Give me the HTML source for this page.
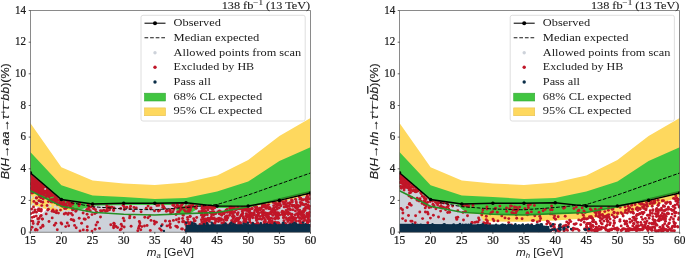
<!DOCTYPE html>
<html><head><meta charset="utf-8"><style>
html,body{margin:0;padding:0;background:#fff;}
body{width:685px;height:258px;overflow:hidden;}
svg{display:block;}
svg{will-change:transform;}
.tk{font-family:"Liberation Serif",serif;font-size:11.8px;fill:#1a1a1a;stroke:#1a1a1a;stroke-width:0.22px;}
.tt{font-family:"Liberation Serif",serif;font-size:11.2px;fill:#1a1a1a;stroke:#1a1a1a;stroke-width:0.1px;}
.lg{font-family:"Liberation Serif",serif;font-size:11.2px;fill:#1a1a1a;}
.xl{font-family:"Liberation Sans",sans-serif;font-size:10.6px;fill:#1a1a1a;}
.yl{font-family:"Liberation Sans",sans-serif;font-size:11px;fill:#1a1a1a;stroke:#1a1a1a;stroke-width:0.15px;}
</style></head><body>
<svg width="685" height="258" viewBox="0 0 685 258">
<defs><clipPath id="c"><rect x="30.3" y="10.5" width="280.2" height="222.0"/><rect x="399.5" y="10.5" width="280.2" height="222.0"/></clipPath></defs><g clip-path="url(#c)">
<polygon points="30.3,123.0 61.4,167.2 92.6,180.5 123.7,183.4 154.8,185.0 186.0,182.4 217.1,175.5 248.2,160.0 279.4,136.0 310.5,118.0 310.5,197.0 279.4,207.0 248.2,215.5 217.1,218.5 186.0,220.5 154.8,221.8 123.7,221.6 92.6,219.5 61.4,213.0 30.3,205.0" fill="#fed85e" />
<polygon points="30.3,152.0 61.4,185.2 92.6,195.5 123.7,196.9 154.8,199.0 186.0,198.0 217.1,191.5 248.2,181.5 279.4,161.0 310.5,147.2 310.5,191.5 279.4,199.0 248.2,206.8 217.1,212.5 186.0,213.6 154.8,215.0 123.7,214.2 92.6,212.3 61.4,206.3 30.3,190.8" fill="#41c541" />
<polygon points="399.5,123.0 430.6,167.2 461.8,180.5 492.9,183.4 524.0,185.0 555.2,182.4 586.3,175.5 617.4,160.0 648.6,136.0 679.7,118.0 679.7,197.0 648.6,207.0 617.4,215.5 586.3,218.5 555.2,220.5 524.0,221.8 492.9,221.6 461.8,219.5 430.6,213.0 399.5,205.0" fill="#fed85e" />
<polygon points="399.5,152.0 430.6,185.2 461.8,195.5 492.9,196.9 524.0,199.0 555.2,198.0 586.3,191.5 617.4,181.5 648.6,161.0 679.7,147.2 679.7,191.5 648.6,199.0 617.4,206.8 586.3,212.5 555.2,213.6 524.0,215.0 492.9,214.2 461.8,212.3 430.6,206.3 399.5,190.8" fill="#41c541" />
<polygon points="30.3,232.1 30.3,225.0 31.9,223.5 33.4,222.0 35.0,220.5 36.5,219.0 38.1,217.5 39.6,216.0 41.2,214.5 42.8,213.0 44.3,211.5 45.9,210.0 47.4,210.2 49.0,210.3 50.5,210.4 52.1,210.6 53.6,210.8 55.2,210.9 56.8,211.1 58.3,211.2 59.9,211.3 61.4,211.5 63.0,211.1 64.5,210.8 66.1,210.5 67.7,210.3 69.2,210.2 70.8,210.1 72.3,210.0 73.9,210.1 75.4,210.2 77.0,210.3 78.6,209.9 80.1,209.6 81.7,209.2 83.2,208.8 84.8,208.3 86.3,207.9 87.9,207.4 89.5,207.0 91.0,206.5 92.6,206.0 94.1,205.8 95.7,205.7 97.2,205.7 98.8,205.7 100.3,205.6 101.9,205.6 103.5,205.6 105.0,205.5 106.6,205.5 108.1,205.5 109.7,205.4 111.2,205.4 112.8,205.3 114.4,205.3 115.9,205.3 117.5,205.2 119.0,205.2 120.6,205.2 122.1,205.1 123.7,205.1 125.3,205.1 126.8,205.1 128.4,205.1 129.9,205.1 131.5,205.1 133.0,205.1 134.6,205.1 136.2,205.1 137.7,205.1 139.3,205.1 140.8,205.1 142.4,205.1 143.9,205.1 145.5,205.1 147.1,205.1 148.6,205.1 150.2,205.1 151.7,205.1 153.3,205.1 154.8,205.1 156.4,205.1 157.9,205.1 159.5,205.0 161.1,205.0 162.6,205.0 164.2,205.0 165.7,204.9 167.3,204.9 168.8,204.9 170.4,204.9 172.0,204.8 173.5,204.8 175.1,204.8 176.6,204.8 178.2,204.7 179.7,204.7 181.3,204.7 182.9,204.7 184.4,204.6 186.0,204.6 187.5,204.8 189.1,204.9 190.6,205.1 192.2,205.3 193.8,205.4 195.3,205.6 196.9,205.8 198.4,205.9 200.0,206.1 201.5,206.3 203.1,206.4 204.6,206.6 206.2,206.7 207.8,206.9 209.3,207.1 210.9,207.2 212.4,207.4 214.0,207.6 215.5,207.7 217.1,207.9 218.7,207.9 220.2,207.9 221.8,207.9 223.3,207.9 224.9,207.9 226.4,207.9 228.0,207.9 229.6,207.9 231.1,207.9 232.7,207.9 234.2,207.8 235.8,207.8 237.3,207.8 238.9,207.8 240.4,207.8 242.0,207.8 243.6,207.8 245.1,207.8 246.7,207.8 248.2,207.8 249.8,207.5 251.3,207.2 252.9,207.0 254.5,206.7 256.0,206.4 257.6,206.1 259.1,205.8 260.7,205.6 262.2,205.3 263.8,205.0 265.4,204.7 266.9,204.4 268.5,204.2 270.0,203.9 271.6,203.6 273.1,203.3 274.7,203.0 276.3,202.8 277.8,202.5 279.4,202.2 280.9,201.8 282.5,201.5 284.0,201.1 285.6,200.7 287.1,200.4 288.7,200.0 290.3,199.6 291.8,199.2 293.4,198.9 294.9,198.5 296.5,198.1 298.0,197.8 299.6,197.4 301.2,197.0 302.7,196.7 304.3,196.3 305.8,195.9 307.4,195.5 308.9,195.2 310.5,194.8 310.5,232.1" fill="#cdd2da" />
<polygon points="176.0,209.5 181.0,205.8 194.0,205.6 198.0,208.5 191.0,213.0 178.0,213.0" fill="#41c541" />
<g fill="#d4d8df"><circle cx="39.5" cy="202.6" r="1.2"/><circle cx="41.4" cy="201.6" r="1.2"/><circle cx="34.9" cy="220.4" r="1.2"/><circle cx="36.2" cy="213.5" r="1.2"/><circle cx="64.2" cy="210.2" r="1.2"/><circle cx="48.4" cy="204.6" r="1.2"/><circle cx="38.8" cy="214.3" r="1.2"/><circle cx="36.5" cy="202.9" r="1.2"/><circle cx="57.4" cy="207.8" r="1.2"/><circle cx="32.5" cy="207.4" r="1.2"/><circle cx="34.2" cy="200.1" r="1.2"/><circle cx="47.5" cy="207.1" r="1.2"/><circle cx="42.4" cy="201.0" r="1.2"/><circle cx="32.9" cy="204.4" r="1.2"/><circle cx="32.9" cy="210.8" r="1.2"/><circle cx="37.2" cy="203.3" r="1.2"/><circle cx="36.4" cy="198.2" r="1.2"/><circle cx="35.2" cy="196.9" r="1.2"/><circle cx="50.4" cy="205.8" r="1.2"/><circle cx="41.9" cy="206.9" r="1.2"/><circle cx="31.4" cy="197.5" r="1.2"/><circle cx="58.3" cy="209.0" r="1.2"/><circle cx="38.0" cy="207.1" r="1.2"/><circle cx="55.1" cy="206.7" r="1.2"/><circle cx="38.4" cy="201.9" r="1.2"/></g>
<polygon points="30.3,173.6 33.4,176.3 36.5,178.9 39.6,181.6 42.8,184.3 45.9,187.0 49.0,189.6 52.1,192.3 55.2,195.0 58.3,197.6 58.3,201.8 52.1,200.7 45.9,196.1 39.6,195.0 30.3,190.3" fill="#c01628" />
<g fill="#41c541"><circle cx="46.2" cy="194.8" r="0.9"/><circle cx="51.9" cy="197.6" r="0.9"/><circle cx="51.0" cy="197.9" r="0.9"/><circle cx="53.3" cy="197.5" r="0.9"/><circle cx="59.0" cy="202.9" r="0.9"/></g>
<g fill="#cdd2da"><circle cx="45.2" cy="189.0" r="1.0"/></g>
<g fill="#c01628"><circle cx="57.5" cy="204.4" r="1.45"/><circle cx="64.9" cy="204.1" r="1.45"/><circle cx="52.2" cy="202.1" r="1.45"/><circle cx="55.2" cy="200.8" r="1.45"/><circle cx="51.7" cy="199.7" r="1.45"/><circle cx="61.4" cy="203.7" r="1.45"/><circle cx="66.1" cy="204.1" r="1.45"/><circle cx="66.7" cy="206.0" r="1.45"/><circle cx="60.4" cy="205.1" r="1.45"/><circle cx="49.9" cy="200.5" r="1.45"/><circle cx="54.5" cy="198.4" r="1.45"/><circle cx="70.5" cy="206.4" r="1.45"/><circle cx="60.3" cy="202.3" r="1.45"/><circle cx="59.3" cy="200.3" r="1.45"/><circle cx="61.9" cy="203.8" r="1.45"/><circle cx="54.8" cy="202.4" r="1.45"/><circle cx="63.3" cy="204.1" r="1.45"/><circle cx="68.0" cy="202.1" r="1.45"/><circle cx="69.5" cy="203.7" r="1.45"/><circle cx="64.1" cy="205.8" r="1.45"/><circle cx="68.9" cy="201.9" r="1.45"/></g>
<g fill="#c01628"><circle cx="75.8" cy="211.3" r="1.45"/><circle cx="36.3" cy="216.1" r="1.45"/><circle cx="47.7" cy="210.1" r="1.45"/><circle cx="33.2" cy="223.5" r="1.45"/><circle cx="39.1" cy="209.0" r="1.45"/><circle cx="48.4" cy="209.3" r="1.45"/><circle cx="40.8" cy="201.5" r="1.45"/><circle cx="39.6" cy="196.9" r="1.45"/><circle cx="48.4" cy="201.6" r="1.45"/><circle cx="76.9" cy="209.6" r="1.45"/><circle cx="33.0" cy="212.6" r="1.45"/><circle cx="36.0" cy="203.1" r="1.45"/><circle cx="38.9" cy="200.7" r="1.45"/><circle cx="36.7" cy="203.8" r="1.45"/><circle cx="30.9" cy="213.6" r="1.45"/><circle cx="41.0" cy="196.6" r="1.45"/><circle cx="41.2" cy="215.5" r="1.45"/><circle cx="33.9" cy="201.4" r="1.45"/><circle cx="39.1" cy="218.4" r="1.45"/><circle cx="32.6" cy="192.9" r="1.45"/><circle cx="34.9" cy="209.9" r="1.45"/><circle cx="36.6" cy="197.9" r="1.45"/><circle cx="39.1" cy="210.6" r="1.45"/><circle cx="51.6" cy="201.5" r="1.45"/><circle cx="36.6" cy="212.1" r="1.45"/><circle cx="31.7" cy="193.1" r="1.45"/><circle cx="32.7" cy="221.3" r="1.45"/><circle cx="73.8" cy="209.2" r="1.45"/><circle cx="56.3" cy="212.8" r="1.45"/><circle cx="72.6" cy="209.9" r="1.45"/><circle cx="40.7" cy="210.9" r="1.45"/><circle cx="32.2" cy="217.4" r="1.45"/><circle cx="39.1" cy="195.8" r="1.45"/><circle cx="41.2" cy="211.1" r="1.45"/><circle cx="41.8" cy="205.6" r="1.45"/><circle cx="31.2" cy="220.9" r="1.45"/><circle cx="51.3" cy="201.9" r="1.45"/><circle cx="37.8" cy="218.8" r="1.45"/></g>
<g fill="#c01628"><circle cx="71.4" cy="203.6" r="1.45"/><circle cx="68.7" cy="225.7" r="1.45"/><circle cx="169.4" cy="225.4" r="1.45"/><circle cx="120.7" cy="208.4" r="1.45"/><circle cx="176.0" cy="214.5" r="1.45"/><circle cx="114.2" cy="223.6" r="1.45"/><circle cx="123.3" cy="218.2" r="1.45"/><circle cx="159.5" cy="210.4" r="1.45"/><circle cx="39.9" cy="192.5" r="1.45"/><circle cx="58.4" cy="213.1" r="1.45"/><circle cx="114.3" cy="225.1" r="1.45"/><circle cx="88.5" cy="217.4" r="1.45"/><circle cx="188.7" cy="206.3" r="1.45"/><circle cx="185.5" cy="211.4" r="1.45"/><circle cx="206.8" cy="219.5" r="1.45"/><circle cx="36.0" cy="185.5" r="1.45"/><circle cx="170.1" cy="209.8" r="1.45"/><circle cx="67.3" cy="223.0" r="1.45"/><circle cx="54.4" cy="225.3" r="1.45"/><circle cx="148.0" cy="217.7" r="1.45"/><circle cx="40.3" cy="194.2" r="1.45"/><circle cx="170.2" cy="224.0" r="1.45"/><circle cx="30.4" cy="183.7" r="1.45"/><circle cx="69.1" cy="205.2" r="1.45"/><circle cx="126.9" cy="207.2" r="1.45"/><circle cx="116.0" cy="226.5" r="1.45"/><circle cx="57.3" cy="229.7" r="1.45"/><circle cx="130.1" cy="208.5" r="1.45"/><circle cx="64.6" cy="208.6" r="1.45"/><circle cx="90.2" cy="210.7" r="1.45"/><circle cx="101.8" cy="210.9" r="1.45"/><circle cx="60.5" cy="210.1" r="1.45"/><circle cx="41.3" cy="209.5" r="1.45"/><circle cx="87.1" cy="214.3" r="1.45"/><circle cx="203.7" cy="222.5" r="1.45"/><circle cx="161.3" cy="230.2" r="1.45"/><circle cx="173.4" cy="220.4" r="1.45"/><circle cx="42.9" cy="226.3" r="1.45"/><circle cx="170.4" cy="227.4" r="1.45"/><circle cx="65.7" cy="213.3" r="1.45"/><circle cx="186.8" cy="207.7" r="1.45"/><circle cx="46.8" cy="195.2" r="1.45"/><circle cx="62.5" cy="206.4" r="1.45"/><circle cx="38.3" cy="189.0" r="1.45"/><circle cx="179.2" cy="211.7" r="1.45"/><circle cx="42.7" cy="202.2" r="1.45"/><circle cx="139.2" cy="226.2" r="1.45"/><circle cx="113.8" cy="223.2" r="1.45"/><circle cx="169.6" cy="221.2" r="1.45"/><circle cx="162.6" cy="205.0" r="1.45"/><circle cx="30.6" cy="229.7" r="1.45"/><circle cx="165.4" cy="221.0" r="1.45"/><circle cx="176.9" cy="226.5" r="1.45"/><circle cx="189.2" cy="208.2" r="1.45"/><circle cx="200.0" cy="224.4" r="1.45"/><circle cx="204.2" cy="206.4" r="1.45"/><circle cx="206.2" cy="213.0" r="1.45"/><circle cx="32.0" cy="190.9" r="1.45"/><circle cx="42.5" cy="219.0" r="1.45"/><circle cx="170.8" cy="213.3" r="1.45"/><circle cx="185.4" cy="230.1" r="1.45"/><circle cx="61.8" cy="224.0" r="1.45"/><circle cx="187.8" cy="222.2" r="1.45"/><circle cx="35.9" cy="229.1" r="1.45"/><circle cx="71.2" cy="219.5" r="1.45"/><circle cx="184.3" cy="210.0" r="1.45"/><circle cx="124.2" cy="220.7" r="1.45"/><circle cx="84.1" cy="219.0" r="1.45"/><circle cx="138.6" cy="228.3" r="1.45"/><circle cx="193.4" cy="223.8" r="1.45"/><circle cx="41.4" cy="184.4" r="1.45"/><circle cx="99.5" cy="228.4" r="1.45"/><circle cx="73.2" cy="220.0" r="1.45"/><circle cx="92.0" cy="231.1" r="1.45"/><circle cx="148.1" cy="206.1" r="1.45"/><circle cx="178.8" cy="222.0" r="1.45"/><circle cx="64.2" cy="214.0" r="1.45"/><circle cx="149.7" cy="216.0" r="1.45"/><circle cx="68.6" cy="213.1" r="1.45"/><circle cx="177.4" cy="205.5" r="1.45"/><circle cx="180.4" cy="209.7" r="1.45"/><circle cx="189.3" cy="212.1" r="1.45"/><circle cx="37.9" cy="209.6" r="1.45"/><circle cx="207.2" cy="224.5" r="1.45"/><circle cx="195.3" cy="207.3" r="1.45"/><circle cx="139.9" cy="222.9" r="1.45"/><circle cx="54.2" cy="211.8" r="1.45"/><circle cx="79.2" cy="218.2" r="1.45"/><circle cx="170.3" cy="210.9" r="1.45"/><circle cx="74.6" cy="225.4" r="1.45"/><circle cx="120.2" cy="229.9" r="1.45"/><circle cx="191.0" cy="207.1" r="1.45"/><circle cx="83.3" cy="229.9" r="1.45"/><circle cx="162.8" cy="207.3" r="1.45"/><circle cx="96.5" cy="212.1" r="1.45"/><circle cx="79.7" cy="203.7" r="1.45"/><circle cx="177.6" cy="211.9" r="1.45"/><circle cx="30.8" cy="175.3" r="1.45"/><circle cx="106.6" cy="210.3" r="1.45"/><circle cx="60.5" cy="202.4" r="1.45"/><circle cx="96.5" cy="212.6" r="1.45"/><circle cx="201.4" cy="219.8" r="1.45"/><circle cx="121.2" cy="224.2" r="1.45"/><circle cx="166.3" cy="211.2" r="1.45"/><circle cx="176.4" cy="219.8" r="1.45"/><circle cx="113.6" cy="210.5" r="1.45"/><circle cx="109.6" cy="209.7" r="1.45"/><circle cx="72.5" cy="215.1" r="1.45"/><circle cx="71.2" cy="213.4" r="1.45"/><circle cx="187.9" cy="212.5" r="1.45"/><circle cx="47.1" cy="205.5" r="1.45"/><circle cx="183.5" cy="221.3" r="1.45"/><circle cx="122.0" cy="226.1" r="1.45"/><circle cx="58.9" cy="203.7" r="1.45"/><circle cx="36.3" cy="184.0" r="1.45"/><circle cx="38.6" cy="221.9" r="1.45"/><circle cx="151.0" cy="220.4" r="1.45"/><circle cx="35.3" cy="230.1" r="1.45"/><circle cx="159.7" cy="228.6" r="1.45"/><circle cx="81.6" cy="223.3" r="1.45"/><circle cx="131.1" cy="226.3" r="1.45"/><circle cx="45.8" cy="197.5" r="1.45"/><circle cx="38.6" cy="194.3" r="1.45"/><circle cx="88.2" cy="208.9" r="1.45"/><circle cx="141.1" cy="211.7" r="1.45"/><circle cx="103.7" cy="210.2" r="1.45"/><circle cx="156.4" cy="222.3" r="1.45"/><circle cx="83.1" cy="213.0" r="1.45"/><circle cx="95.1" cy="229.3" r="1.45"/><circle cx="114.0" cy="207.9" r="1.45"/><circle cx="124.2" cy="227.0" r="1.45"/><circle cx="43.2" cy="199.0" r="1.45"/><circle cx="154.9" cy="222.1" r="1.45"/><circle cx="42.8" cy="225.2" r="1.45"/><circle cx="87.2" cy="230.3" r="1.45"/><circle cx="88.2" cy="205.1" r="1.45"/><circle cx="46.2" cy="213.9" r="1.45"/><circle cx="94.9" cy="213.5" r="1.45"/><circle cx="67.9" cy="214.4" r="1.45"/><circle cx="65.9" cy="208.3" r="1.45"/><circle cx="175.7" cy="226.1" r="1.45"/><circle cx="34.1" cy="216.7" r="1.45"/><circle cx="107.2" cy="207.9" r="1.45"/><circle cx="36.3" cy="198.0" r="1.45"/><circle cx="56.6" cy="210.8" r="1.45"/><circle cx="134.0" cy="207.4" r="1.45"/><circle cx="96.0" cy="225.0" r="1.45"/><circle cx="188.1" cy="208.2" r="1.45"/><circle cx="110.8" cy="224.8" r="1.45"/><circle cx="181.6" cy="228.9" r="1.45"/><circle cx="129.9" cy="216.0" r="1.45"/><circle cx="87.0" cy="210.6" r="1.45"/><circle cx="146.2" cy="208.3" r="1.45"/><circle cx="76.2" cy="227.8" r="1.45"/><circle cx="182.4" cy="229.0" r="1.45"/><circle cx="37.2" cy="230.1" r="1.45"/><circle cx="41.0" cy="197.9" r="1.45"/><circle cx="137.8" cy="230.8" r="1.45"/><circle cx="44.0" cy="195.2" r="1.45"/><circle cx="123.1" cy="205.3" r="1.45"/><circle cx="100.5" cy="217.0" r="1.45"/><circle cx="66.3" cy="208.1" r="1.45"/><circle cx="53.0" cy="210.0" r="1.45"/><circle cx="40.3" cy="216.4" r="1.45"/><circle cx="52.2" cy="217.9" r="1.45"/><circle cx="85.2" cy="219.3" r="1.45"/><circle cx="40.7" cy="227.8" r="1.45"/><circle cx="57.0" cy="202.6" r="1.45"/><circle cx="147.1" cy="225.5" r="1.45"/><circle cx="167.0" cy="225.9" r="1.45"/><circle cx="33.5" cy="206.9" r="1.45"/><circle cx="210.6" cy="212.8" r="1.45"/><circle cx="201.9" cy="211.5" r="1.45"/><circle cx="36.8" cy="203.4" r="1.45"/><circle cx="199.1" cy="211.8" r="1.45"/><circle cx="72.6" cy="208.6" r="1.45"/><circle cx="32.1" cy="227.3" r="1.45"/><circle cx="199.0" cy="230.6" r="1.45"/><circle cx="92.0" cy="214.6" r="1.45"/><circle cx="121.3" cy="229.0" r="1.45"/><circle cx="52.1" cy="211.3" r="1.45"/><circle cx="144.8" cy="217.3" r="1.45"/><circle cx="34.7" cy="212.1" r="1.45"/><circle cx="200.6" cy="230.3" r="1.45"/><circle cx="190.6" cy="222.3" r="1.45"/><circle cx="178.9" cy="218.7" r="1.45"/><circle cx="139.8" cy="225.5" r="1.45"/><circle cx="46.0" cy="191.3" r="1.45"/><circle cx="129.6" cy="217.9" r="1.45"/><circle cx="55.8" cy="223.3" r="1.45"/><circle cx="144.5" cy="226.0" r="1.45"/><circle cx="97.5" cy="222.3" r="1.45"/><circle cx="210.5" cy="207.6" r="1.45"/><circle cx="31.6" cy="209.1" r="1.45"/><circle cx="178.3" cy="206.7" r="1.45"/><circle cx="49.0" cy="221.5" r="1.45"/><circle cx="156.9" cy="205.6" r="1.45"/><circle cx="61.0" cy="222.9" r="1.45"/><circle cx="37.8" cy="224.0" r="1.45"/><circle cx="140.8" cy="229.8" r="1.45"/><circle cx="33.7" cy="187.8" r="1.45"/><circle cx="141.9" cy="226.6" r="1.45"/><circle cx="204.9" cy="208.0" r="1.45"/><circle cx="108.8" cy="206.9" r="1.45"/><circle cx="208.7" cy="218.6" r="1.45"/><circle cx="134.4" cy="217.4" r="1.45"/><circle cx="150.3" cy="230.4" r="1.45"/><circle cx="172.9" cy="211.8" r="1.45"/><circle cx="162.2" cy="224.7" r="1.45"/><circle cx="154.1" cy="221.1" r="1.45"/><circle cx="206.1" cy="220.7" r="1.45"/><circle cx="73.9" cy="220.7" r="1.45"/><circle cx="65.7" cy="226.6" r="1.45"/><circle cx="87.3" cy="226.7" r="1.45"/><circle cx="113.6" cy="227.7" r="1.45"/><circle cx="80.0" cy="230.9" r="1.45"/><circle cx="177.4" cy="227.2" r="1.45"/><circle cx="31.8" cy="184.2" r="1.45"/><circle cx="117.6" cy="227.6" r="1.45"/><circle cx="86.8" cy="209.6" r="1.45"/><circle cx="139.3" cy="221.5" r="1.45"/><circle cx="31.4" cy="188.3" r="1.45"/><circle cx="39.1" cy="210.4" r="1.45"/><circle cx="154.5" cy="224.1" r="1.45"/><circle cx="184.9" cy="222.4" r="1.45"/><circle cx="200.9" cy="213.2" r="1.45"/><circle cx="42.3" cy="219.1" r="1.45"/><circle cx="113.6" cy="226.1" r="1.45"/><circle cx="111.9" cy="207.1" r="1.45"/><circle cx="88.4" cy="208.9" r="1.45"/></g>
<g fill="#c01628"><circle cx="213.0" cy="218.9" r="1.45"/><circle cx="272.8" cy="218.6" r="1.45"/><circle cx="291.8" cy="202.0" r="1.45"/><circle cx="307.4" cy="216.2" r="1.45"/><circle cx="228.1" cy="225.0" r="1.45"/><circle cx="289.7" cy="213.5" r="1.45"/><circle cx="226.8" cy="220.1" r="1.45"/><circle cx="292.6" cy="217.9" r="1.45"/><circle cx="295.3" cy="218.3" r="1.45"/><circle cx="259.1" cy="225.1" r="1.45"/><circle cx="288.9" cy="218.3" r="1.45"/><circle cx="211.6" cy="214.7" r="1.45"/><circle cx="253.6" cy="215.2" r="1.45"/><circle cx="259.9" cy="218.9" r="1.45"/><circle cx="294.3" cy="205.4" r="1.45"/><circle cx="306.8" cy="197.2" r="1.45"/><circle cx="221.8" cy="223.0" r="1.45"/><circle cx="285.5" cy="213.7" r="1.45"/><circle cx="284.8" cy="202.8" r="1.45"/><circle cx="273.7" cy="205.6" r="1.45"/><circle cx="242.2" cy="207.5" r="1.45"/><circle cx="241.4" cy="215.0" r="1.45"/><circle cx="253.3" cy="225.0" r="1.45"/><circle cx="246.1" cy="221.7" r="1.45"/><circle cx="221.7" cy="215.3" r="1.45"/><circle cx="268.8" cy="213.6" r="1.45"/><circle cx="264.8" cy="212.8" r="1.45"/><circle cx="256.3" cy="224.2" r="1.45"/><circle cx="269.3" cy="221.3" r="1.45"/><circle cx="273.8" cy="207.7" r="1.45"/><circle cx="255.7" cy="217.9" r="1.45"/><circle cx="265.3" cy="219.8" r="1.45"/><circle cx="227.1" cy="216.0" r="1.45"/><circle cx="292.7" cy="206.3" r="1.45"/><circle cx="243.4" cy="216.9" r="1.45"/><circle cx="301.6" cy="218.8" r="1.45"/><circle cx="270.4" cy="220.4" r="1.45"/><circle cx="285.0" cy="223.4" r="1.45"/><circle cx="271.1" cy="212.0" r="1.45"/><circle cx="268.5" cy="208.5" r="1.45"/><circle cx="250.1" cy="217.2" r="1.45"/><circle cx="231.5" cy="211.0" r="1.45"/><circle cx="238.2" cy="220.5" r="1.45"/><circle cx="212.8" cy="209.4" r="1.45"/><circle cx="204.6" cy="215.3" r="1.45"/><circle cx="202.9" cy="208.6" r="1.45"/><circle cx="268.3" cy="217.6" r="1.45"/><circle cx="309.7" cy="206.4" r="1.45"/><circle cx="288.2" cy="214.6" r="1.45"/><circle cx="265.4" cy="215.5" r="1.45"/><circle cx="273.9" cy="224.7" r="1.45"/><circle cx="264.2" cy="213.3" r="1.45"/><circle cx="241.4" cy="208.8" r="1.45"/><circle cx="202.0" cy="212.1" r="1.45"/><circle cx="244.4" cy="209.1" r="1.45"/><circle cx="237.8" cy="218.7" r="1.45"/><circle cx="275.5" cy="204.0" r="1.45"/><circle cx="246.8" cy="225.3" r="1.45"/><circle cx="289.3" cy="209.3" r="1.45"/><circle cx="230.3" cy="208.7" r="1.45"/><circle cx="265.3" cy="207.3" r="1.45"/><circle cx="231.0" cy="208.7" r="1.45"/><circle cx="276.2" cy="215.6" r="1.45"/><circle cx="230.4" cy="223.4" r="1.45"/><circle cx="212.4" cy="212.4" r="1.45"/><circle cx="308.4" cy="217.3" r="1.45"/><circle cx="302.0" cy="212.8" r="1.45"/><circle cx="261.5" cy="212.3" r="1.45"/><circle cx="206.2" cy="222.2" r="1.45"/><circle cx="204.7" cy="219.5" r="1.45"/><circle cx="222.5" cy="223.3" r="1.45"/><circle cx="229.8" cy="208.2" r="1.45"/><circle cx="309.3" cy="199.1" r="1.45"/><circle cx="212.7" cy="207.2" r="1.45"/><circle cx="302.8" cy="217.5" r="1.45"/><circle cx="247.1" cy="216.9" r="1.45"/><circle cx="257.6" cy="215.7" r="1.45"/><circle cx="252.7" cy="217.8" r="1.45"/><circle cx="298.0" cy="215.2" r="1.45"/><circle cx="307.2" cy="195.0" r="1.45"/><circle cx="299.8" cy="217.6" r="1.45"/><circle cx="288.1" cy="219.8" r="1.45"/><circle cx="257.4" cy="210.8" r="1.45"/><circle cx="310.3" cy="220.6" r="1.45"/><circle cx="205.5" cy="219.0" r="1.45"/><circle cx="207.0" cy="207.5" r="1.45"/><circle cx="295.1" cy="206.9" r="1.45"/><circle cx="271.3" cy="213.9" r="1.45"/><circle cx="282.5" cy="214.7" r="1.45"/><circle cx="300.3" cy="202.5" r="1.45"/><circle cx="211.4" cy="212.4" r="1.45"/><circle cx="249.8" cy="221.9" r="1.45"/><circle cx="270.9" cy="218.1" r="1.45"/><circle cx="309.9" cy="212.1" r="1.45"/><circle cx="249.7" cy="209.9" r="1.45"/><circle cx="308.1" cy="218.5" r="1.45"/><circle cx="305.7" cy="207.2" r="1.45"/><circle cx="202.5" cy="206.7" r="1.45"/><circle cx="303.4" cy="221.4" r="1.45"/><circle cx="257.1" cy="217.3" r="1.45"/><circle cx="230.2" cy="207.1" r="1.45"/><circle cx="298.5" cy="221.1" r="1.45"/><circle cx="245.1" cy="221.0" r="1.45"/><circle cx="263.0" cy="215.0" r="1.45"/><circle cx="272.2" cy="211.8" r="1.45"/><circle cx="270.9" cy="225.4" r="1.45"/><circle cx="286.3" cy="207.1" r="1.45"/><circle cx="231.2" cy="207.3" r="1.45"/><circle cx="276.4" cy="222.8" r="1.45"/><circle cx="310.0" cy="209.2" r="1.45"/><circle cx="242.7" cy="208.5" r="1.45"/><circle cx="303.3" cy="218.2" r="1.45"/><circle cx="216.2" cy="220.1" r="1.45"/><circle cx="286.0" cy="223.9" r="1.45"/><circle cx="202.0" cy="213.8" r="1.45"/><circle cx="275.3" cy="203.0" r="1.45"/><circle cx="291.9" cy="205.0" r="1.45"/><circle cx="277.9" cy="217.0" r="1.45"/><circle cx="272.8" cy="215.4" r="1.45"/><circle cx="303.0" cy="216.3" r="1.45"/><circle cx="257.5" cy="209.0" r="1.45"/><circle cx="307.4" cy="199.9" r="1.45"/><circle cx="310.5" cy="225.8" r="1.45"/><circle cx="269.8" cy="212.9" r="1.45"/><circle cx="280.6" cy="201.2" r="1.45"/><circle cx="278.5" cy="218.3" r="1.45"/><circle cx="283.6" cy="217.6" r="1.45"/><circle cx="292.5" cy="222.3" r="1.45"/><circle cx="287.1" cy="213.4" r="1.45"/><circle cx="290.1" cy="217.6" r="1.45"/><circle cx="278.7" cy="223.0" r="1.45"/><circle cx="304.4" cy="217.9" r="1.45"/><circle cx="236.6" cy="220.8" r="1.45"/><circle cx="247.2" cy="215.4" r="1.45"/><circle cx="292.0" cy="214.2" r="1.45"/><circle cx="272.8" cy="209.3" r="1.45"/><circle cx="265.3" cy="221.2" r="1.45"/><circle cx="240.1" cy="223.5" r="1.45"/><circle cx="258.1" cy="214.9" r="1.45"/><circle cx="277.6" cy="216.5" r="1.45"/><circle cx="214.3" cy="225.0" r="1.45"/><circle cx="203.4" cy="215.7" r="1.45"/><circle cx="213.3" cy="223.7" r="1.45"/><circle cx="232.6" cy="208.0" r="1.45"/><circle cx="256.4" cy="218.9" r="1.45"/><circle cx="252.2" cy="225.8" r="1.45"/><circle cx="284.7" cy="214.9" r="1.45"/><circle cx="250.0" cy="217.9" r="1.45"/><circle cx="308.7" cy="214.1" r="1.45"/><circle cx="232.6" cy="224.1" r="1.45"/><circle cx="239.1" cy="208.9" r="1.45"/><circle cx="298.2" cy="217.0" r="1.45"/><circle cx="244.5" cy="220.3" r="1.45"/><circle cx="277.8" cy="214.7" r="1.45"/><circle cx="279.3" cy="207.7" r="1.45"/><circle cx="286.0" cy="210.5" r="1.45"/><circle cx="288.9" cy="218.4" r="1.45"/><circle cx="310.5" cy="198.4" r="1.45"/><circle cx="306.5" cy="201.0" r="1.45"/><circle cx="309.4" cy="212.9" r="1.45"/><circle cx="274.2" cy="210.4" r="1.45"/><circle cx="249.8" cy="214.0" r="1.45"/><circle cx="267.4" cy="213.5" r="1.45"/><circle cx="305.9" cy="204.2" r="1.45"/><circle cx="268.1" cy="218.0" r="1.45"/><circle cx="254.1" cy="212.6" r="1.45"/><circle cx="262.7" cy="214.1" r="1.45"/><circle cx="215.7" cy="213.4" r="1.45"/><circle cx="230.6" cy="208.3" r="1.45"/><circle cx="307.1" cy="213.3" r="1.45"/><circle cx="275.3" cy="212.1" r="1.45"/><circle cx="238.8" cy="218.7" r="1.45"/><circle cx="281.8" cy="212.3" r="1.45"/><circle cx="256.6" cy="216.9" r="1.45"/><circle cx="258.2" cy="214.0" r="1.45"/><circle cx="263.4" cy="210.1" r="1.45"/><circle cx="295.4" cy="210.9" r="1.45"/><circle cx="266.1" cy="208.4" r="1.45"/><circle cx="242.4" cy="214.9" r="1.45"/><circle cx="215.2" cy="222.7" r="1.45"/><circle cx="210.4" cy="206.9" r="1.45"/><circle cx="280.1" cy="204.1" r="1.45"/><circle cx="205.3" cy="207.4" r="1.45"/><circle cx="268.7" cy="219.3" r="1.45"/><circle cx="234.1" cy="216.4" r="1.45"/><circle cx="211.3" cy="212.3" r="1.45"/><circle cx="308.9" cy="214.8" r="1.45"/><circle cx="262.8" cy="212.9" r="1.45"/><circle cx="293.4" cy="217.3" r="1.45"/><circle cx="233.0" cy="207.9" r="1.45"/><circle cx="269.4" cy="208.7" r="1.45"/><circle cx="262.2" cy="207.2" r="1.45"/><circle cx="224.5" cy="212.4" r="1.45"/><circle cx="240.7" cy="215.9" r="1.45"/><circle cx="234.9" cy="221.3" r="1.45"/><circle cx="245.1" cy="218.6" r="1.45"/><circle cx="245.9" cy="215.9" r="1.45"/><circle cx="302.0" cy="224.2" r="1.45"/><circle cx="251.5" cy="208.8" r="1.45"/><circle cx="214.1" cy="211.9" r="1.45"/><circle cx="287.7" cy="203.4" r="1.45"/><circle cx="305.4" cy="199.5" r="1.45"/><circle cx="293.0" cy="220.4" r="1.45"/><circle cx="277.3" cy="209.1" r="1.45"/><circle cx="245.8" cy="208.2" r="1.45"/><circle cx="264.8" cy="223.8" r="1.45"/><circle cx="211.8" cy="208.9" r="1.45"/><circle cx="202.6" cy="224.1" r="1.45"/><circle cx="254.2" cy="214.3" r="1.45"/><circle cx="242.4" cy="211.2" r="1.45"/><circle cx="274.6" cy="214.1" r="1.45"/><circle cx="272.2" cy="223.2" r="1.45"/><circle cx="246.7" cy="209.2" r="1.45"/><circle cx="225.1" cy="223.9" r="1.45"/><circle cx="262.6" cy="204.7" r="1.45"/><circle cx="227.2" cy="212.2" r="1.45"/><circle cx="261.1" cy="223.9" r="1.45"/><circle cx="299.3" cy="196.9" r="1.45"/><circle cx="289.6" cy="208.8" r="1.45"/><circle cx="289.4" cy="224.7" r="1.45"/><circle cx="308.1" cy="197.1" r="1.45"/><circle cx="293.0" cy="209.8" r="1.45"/><circle cx="264.6" cy="206.6" r="1.45"/><circle cx="268.5" cy="216.5" r="1.45"/><circle cx="245.9" cy="220.1" r="1.45"/><circle cx="306.2" cy="225.6" r="1.45"/><circle cx="232.4" cy="224.1" r="1.45"/><circle cx="218.4" cy="221.6" r="1.45"/><circle cx="283.0" cy="212.2" r="1.45"/><circle cx="284.2" cy="225.4" r="1.45"/><circle cx="285.9" cy="205.4" r="1.45"/><circle cx="272.1" cy="221.2" r="1.45"/><circle cx="296.1" cy="201.5" r="1.45"/><circle cx="223.1" cy="223.5" r="1.45"/><circle cx="202.5" cy="217.6" r="1.45"/><circle cx="300.9" cy="213.8" r="1.45"/><circle cx="284.1" cy="207.1" r="1.45"/><circle cx="284.5" cy="213.1" r="1.45"/><circle cx="212.2" cy="224.3" r="1.45"/><circle cx="219.2" cy="220.0" r="1.45"/><circle cx="231.2" cy="213.3" r="1.45"/><circle cx="307.2" cy="222.0" r="1.45"/><circle cx="236.7" cy="225.4" r="1.45"/><circle cx="269.2" cy="207.5" r="1.45"/><circle cx="300.2" cy="214.2" r="1.45"/><circle cx="256.5" cy="220.6" r="1.45"/><circle cx="220.5" cy="211.7" r="1.45"/><circle cx="307.5" cy="223.4" r="1.45"/><circle cx="283.8" cy="212.8" r="1.45"/><circle cx="238.9" cy="222.7" r="1.45"/><circle cx="301.8" cy="199.8" r="1.45"/><circle cx="255.7" cy="209.2" r="1.45"/><circle cx="256.9" cy="215.6" r="1.45"/><circle cx="236.7" cy="209.2" r="1.45"/><circle cx="236.0" cy="209.7" r="1.45"/><circle cx="247.8" cy="224.4" r="1.45"/><circle cx="210.0" cy="219.0" r="1.45"/><circle cx="246.7" cy="210.5" r="1.45"/><circle cx="212.3" cy="211.9" r="1.45"/><circle cx="224.1" cy="213.7" r="1.45"/><circle cx="221.4" cy="219.4" r="1.45"/><circle cx="274.9" cy="224.8" r="1.45"/><circle cx="264.6" cy="222.8" r="1.45"/><circle cx="212.4" cy="218.4" r="1.45"/><circle cx="233.0" cy="214.5" r="1.45"/><circle cx="251.0" cy="213.8" r="1.45"/><circle cx="298.4" cy="213.4" r="1.45"/><circle cx="248.1" cy="216.3" r="1.45"/><circle cx="240.6" cy="225.5" r="1.45"/><circle cx="248.1" cy="210.0" r="1.45"/><circle cx="284.0" cy="220.8" r="1.45"/><circle cx="226.6" cy="218.1" r="1.45"/><circle cx="260.7" cy="208.3" r="1.45"/><circle cx="235.7" cy="219.3" r="1.45"/><circle cx="285.9" cy="200.8" r="1.45"/><circle cx="308.5" cy="214.8" r="1.45"/><circle cx="269.9" cy="208.0" r="1.45"/><circle cx="226.0" cy="210.2" r="1.45"/><circle cx="254.2" cy="206.0" r="1.45"/><circle cx="238.2" cy="212.7" r="1.45"/><circle cx="214.2" cy="217.9" r="1.45"/><circle cx="292.8" cy="223.6" r="1.45"/><circle cx="227.1" cy="209.5" r="1.45"/><circle cx="238.9" cy="225.9" r="1.45"/><circle cx="237.5" cy="214.7" r="1.45"/><circle cx="307.1" cy="214.1" r="1.45"/><circle cx="291.7" cy="214.5" r="1.45"/><circle cx="245.2" cy="210.1" r="1.45"/><circle cx="279.7" cy="215.0" r="1.45"/><circle cx="261.7" cy="219.3" r="1.45"/><circle cx="203.4" cy="216.7" r="1.45"/><circle cx="271.7" cy="210.8" r="1.45"/><circle cx="259.6" cy="208.2" r="1.45"/><circle cx="308.0" cy="208.0" r="1.45"/><circle cx="263.9" cy="218.3" r="1.45"/><circle cx="279.3" cy="203.2" r="1.45"/><circle cx="283.3" cy="213.3" r="1.45"/><circle cx="270.1" cy="224.7" r="1.45"/><circle cx="257.7" cy="210.8" r="1.45"/><circle cx="222.6" cy="213.8" r="1.45"/><circle cx="295.9" cy="207.9" r="1.45"/><circle cx="280.9" cy="205.7" r="1.45"/><circle cx="290.2" cy="223.5" r="1.45"/><circle cx="266.5" cy="215.2" r="1.45"/><circle cx="303.5" cy="224.8" r="1.45"/><circle cx="214.8" cy="207.7" r="1.45"/><circle cx="291.1" cy="220.7" r="1.45"/><circle cx="259.4" cy="225.9" r="1.45"/><circle cx="227.8" cy="217.8" r="1.45"/><circle cx="256.5" cy="210.3" r="1.45"/><circle cx="276.8" cy="203.8" r="1.45"/><circle cx="205.7" cy="220.7" r="1.45"/><circle cx="288.8" cy="220.2" r="1.45"/><circle cx="255.4" cy="207.1" r="1.45"/><circle cx="233.3" cy="218.5" r="1.45"/><circle cx="296.2" cy="207.4" r="1.45"/><circle cx="294.3" cy="223.7" r="1.45"/><circle cx="209.3" cy="221.4" r="1.45"/><circle cx="249.7" cy="219.9" r="1.45"/><circle cx="283.7" cy="212.2" r="1.45"/><circle cx="243.7" cy="209.2" r="1.45"/><circle cx="207.6" cy="219.9" r="1.45"/><circle cx="256.3" cy="217.1" r="1.45"/><circle cx="226.8" cy="219.7" r="1.45"/><circle cx="309.6" cy="221.4" r="1.45"/><circle cx="270.3" cy="221.0" r="1.45"/><circle cx="223.5" cy="219.9" r="1.45"/><circle cx="306.8" cy="197.9" r="1.45"/><circle cx="277.8" cy="218.3" r="1.45"/><circle cx="224.1" cy="222.5" r="1.45"/><circle cx="252.3" cy="208.5" r="1.45"/><circle cx="290.6" cy="209.8" r="1.45"/><circle cx="234.0" cy="209.4" r="1.45"/><circle cx="300.2" cy="221.3" r="1.45"/><circle cx="205.3" cy="211.4" r="1.45"/><circle cx="304.2" cy="204.8" r="1.45"/><circle cx="291.0" cy="218.5" r="1.45"/><circle cx="301.6" cy="215.8" r="1.45"/><circle cx="301.7" cy="202.6" r="1.45"/><circle cx="254.1" cy="214.5" r="1.45"/><circle cx="225.1" cy="225.1" r="1.45"/><circle cx="204.0" cy="225.2" r="1.45"/><circle cx="291.1" cy="214.2" r="1.45"/><circle cx="264.1" cy="221.7" r="1.45"/><circle cx="215.7" cy="221.1" r="1.45"/><circle cx="225.5" cy="216.8" r="1.45"/><circle cx="308.6" cy="219.5" r="1.45"/><circle cx="229.6" cy="215.3" r="1.45"/><circle cx="267.4" cy="205.8" r="1.45"/><circle cx="240.8" cy="225.2" r="1.45"/><circle cx="214.5" cy="225.7" r="1.45"/><circle cx="231.8" cy="210.0" r="1.45"/><circle cx="289.9" cy="218.2" r="1.45"/><circle cx="245.0" cy="225.0" r="1.45"/><circle cx="260.6" cy="209.8" r="1.45"/><circle cx="308.0" cy="207.5" r="1.45"/><circle cx="237.8" cy="207.4" r="1.45"/><circle cx="240.1" cy="223.0" r="1.45"/><circle cx="257.0" cy="225.3" r="1.45"/><circle cx="278.5" cy="212.9" r="1.45"/><circle cx="239.6" cy="217.7" r="1.45"/><circle cx="279.0" cy="203.7" r="1.45"/><circle cx="300.0" cy="199.3" r="1.45"/><circle cx="220.8" cy="220.1" r="1.45"/><circle cx="210.0" cy="218.7" r="1.45"/><circle cx="234.2" cy="216.9" r="1.45"/><circle cx="307.0" cy="216.0" r="1.45"/><circle cx="251.6" cy="213.2" r="1.45"/><circle cx="304.7" cy="220.0" r="1.45"/><circle cx="241.7" cy="226.0" r="1.45"/><circle cx="295.5" cy="206.2" r="1.45"/><circle cx="299.8" cy="218.4" r="1.45"/><circle cx="277.3" cy="212.7" r="1.45"/><circle cx="278.9" cy="204.9" r="1.45"/><circle cx="257.1" cy="211.8" r="1.45"/><circle cx="234.6" cy="212.2" r="1.45"/><circle cx="287.6" cy="206.5" r="1.45"/><circle cx="299.3" cy="212.4" r="1.45"/><circle cx="266.7" cy="207.1" r="1.45"/><circle cx="264.2" cy="225.8" r="1.45"/><circle cx="284.0" cy="225.5" r="1.45"/><circle cx="277.5" cy="217.1" r="1.45"/><circle cx="288.3" cy="212.2" r="1.45"/><circle cx="299.6" cy="221.0" r="1.45"/><circle cx="282.4" cy="211.1" r="1.45"/><circle cx="262.8" cy="216.7" r="1.45"/><circle cx="206.4" cy="208.0" r="1.45"/><circle cx="240.8" cy="225.2" r="1.45"/><circle cx="250.2" cy="215.3" r="1.45"/><circle cx="209.5" cy="207.6" r="1.45"/><circle cx="296.9" cy="208.0" r="1.45"/><circle cx="256.8" cy="207.3" r="1.45"/><circle cx="213.9" cy="218.7" r="1.45"/><circle cx="275.4" cy="217.7" r="1.45"/><circle cx="279.2" cy="224.1" r="1.45"/><circle cx="304.4" cy="209.8" r="1.45"/><circle cx="306.7" cy="220.7" r="1.45"/><circle cx="212.6" cy="213.5" r="1.45"/><circle cx="304.0" cy="208.9" r="1.45"/><circle cx="284.1" cy="216.9" r="1.45"/><circle cx="266.2" cy="213.3" r="1.45"/><circle cx="259.3" cy="213.0" r="1.45"/><circle cx="303.5" cy="211.8" r="1.45"/><circle cx="203.8" cy="209.6" r="1.45"/><circle cx="283.8" cy="204.2" r="1.45"/><circle cx="286.0" cy="204.6" r="1.45"/><circle cx="204.5" cy="221.7" r="1.45"/><circle cx="271.2" cy="225.1" r="1.45"/><circle cx="214.9" cy="213.7" r="1.45"/><circle cx="289.8" cy="202.7" r="1.45"/><circle cx="258.6" cy="224.8" r="1.45"/><circle cx="221.1" cy="218.6" r="1.45"/><circle cx="219.0" cy="211.5" r="1.45"/><circle cx="310.2" cy="195.2" r="1.45"/><circle cx="244.8" cy="207.3" r="1.45"/><circle cx="300.7" cy="223.3" r="1.45"/><circle cx="287.9" cy="221.6" r="1.45"/><circle cx="207.3" cy="214.7" r="1.45"/><circle cx="308.8" cy="206.0" r="1.45"/><circle cx="254.2" cy="224.4" r="1.45"/><circle cx="283.7" cy="203.1" r="1.45"/><circle cx="252.7" cy="223.3" r="1.45"/><circle cx="263.2" cy="210.9" r="1.45"/><circle cx="273.4" cy="223.0" r="1.45"/><circle cx="301.5" cy="211.8" r="1.45"/><circle cx="277.8" cy="222.8" r="1.45"/><circle cx="293.2" cy="205.4" r="1.45"/><circle cx="207.8" cy="207.8" r="1.45"/><circle cx="265.9" cy="225.1" r="1.45"/><circle cx="282.8" cy="214.2" r="1.45"/><circle cx="225.9" cy="219.8" r="1.45"/><circle cx="202.0" cy="208.3" r="1.45"/><circle cx="282.8" cy="214.1" r="1.45"/><circle cx="242.8" cy="213.2" r="1.45"/><circle cx="240.8" cy="208.9" r="1.45"/><circle cx="248.5" cy="211.7" r="1.45"/><circle cx="262.8" cy="206.6" r="1.45"/><circle cx="286.2" cy="217.8" r="1.45"/><circle cx="219.3" cy="213.8" r="1.45"/><circle cx="287.0" cy="212.2" r="1.45"/><circle cx="250.0" cy="209.2" r="1.45"/><circle cx="266.8" cy="217.2" r="1.45"/><circle cx="280.7" cy="225.2" r="1.45"/><circle cx="216.2" cy="219.1" r="1.45"/><circle cx="297.0" cy="205.5" r="1.45"/><circle cx="219.2" cy="218.2" r="1.45"/><circle cx="258.0" cy="219.1" r="1.45"/><circle cx="305.0" cy="210.4" r="1.45"/><circle cx="302.5" cy="224.3" r="1.45"/><circle cx="303.1" cy="204.6" r="1.45"/><circle cx="251.9" cy="215.8" r="1.45"/><circle cx="303.6" cy="211.8" r="1.45"/><circle cx="303.2" cy="199.8" r="1.45"/><circle cx="220.4" cy="220.3" r="1.45"/><circle cx="201.8" cy="210.8" r="1.45"/><circle cx="254.8" cy="210.5" r="1.45"/><circle cx="288.2" cy="209.3" r="1.45"/><circle cx="274.5" cy="225.6" r="1.45"/><circle cx="226.8" cy="216.1" r="1.45"/><circle cx="297.1" cy="225.7" r="1.45"/><circle cx="244.1" cy="219.1" r="1.45"/><circle cx="275.3" cy="219.1" r="1.45"/><circle cx="262.5" cy="215.4" r="1.45"/><circle cx="257.0" cy="209.0" r="1.45"/><circle cx="263.7" cy="226.0" r="1.45"/><circle cx="201.6" cy="215.2" r="1.45"/><circle cx="302.1" cy="215.2" r="1.45"/><circle cx="210.7" cy="212.6" r="1.45"/><circle cx="242.4" cy="213.6" r="1.45"/><circle cx="217.7" cy="212.0" r="1.45"/><circle cx="259.2" cy="210.1" r="1.45"/><circle cx="238.8" cy="223.4" r="1.45"/><circle cx="299.7" cy="212.8" r="1.45"/><circle cx="297.8" cy="205.4" r="1.45"/><circle cx="225.6" cy="218.1" r="1.45"/><circle cx="296.7" cy="213.6" r="1.45"/><circle cx="300.0" cy="206.0" r="1.45"/><circle cx="203.7" cy="215.8" r="1.45"/><circle cx="291.6" cy="199.9" r="1.45"/><circle cx="295.1" cy="215.0" r="1.45"/><circle cx="293.8" cy="219.6" r="1.45"/><circle cx="246.3" cy="213.8" r="1.45"/><circle cx="257.5" cy="222.8" r="1.45"/><circle cx="203.8" cy="224.3" r="1.45"/><circle cx="289.8" cy="203.9" r="1.45"/><circle cx="225.6" cy="217.2" r="1.45"/><circle cx="277.4" cy="205.5" r="1.45"/><circle cx="295.9" cy="221.0" r="1.45"/><circle cx="205.1" cy="208.2" r="1.45"/><circle cx="208.0" cy="209.7" r="1.45"/><circle cx="273.3" cy="202.5" r="1.45"/><circle cx="210.6" cy="219.1" r="1.45"/><circle cx="201.8" cy="221.9" r="1.45"/><circle cx="262.5" cy="204.9" r="1.45"/><circle cx="267.5" cy="223.0" r="1.45"/><circle cx="233.1" cy="222.1" r="1.45"/><circle cx="234.5" cy="222.8" r="1.45"/><circle cx="298.0" cy="206.9" r="1.45"/><circle cx="277.3" cy="217.0" r="1.45"/><circle cx="237.2" cy="213.8" r="1.45"/><circle cx="295.4" cy="205.9" r="1.45"/><circle cx="276.0" cy="214.2" r="1.45"/><circle cx="244.5" cy="210.0" r="1.45"/><circle cx="276.6" cy="215.3" r="1.45"/><circle cx="305.7" cy="225.8" r="1.45"/><circle cx="263.7" cy="204.7" r="1.45"/><circle cx="310.1" cy="215.8" r="1.45"/><circle cx="301.2" cy="204.3" r="1.45"/><circle cx="302.4" cy="203.9" r="1.45"/><circle cx="240.3" cy="222.8" r="1.45"/><circle cx="307.8" cy="222.2" r="1.45"/><circle cx="299.7" cy="210.1" r="1.45"/><circle cx="215.8" cy="220.2" r="1.45"/><circle cx="249.3" cy="219.3" r="1.45"/><circle cx="273.7" cy="209.1" r="1.45"/><circle cx="221.8" cy="212.2" r="1.45"/><circle cx="276.4" cy="207.2" r="1.45"/><circle cx="268.6" cy="204.6" r="1.45"/><circle cx="249.5" cy="217.0" r="1.45"/><circle cx="225.2" cy="217.5" r="1.45"/><circle cx="275.4" cy="210.0" r="1.45"/><circle cx="283.0" cy="201.8" r="1.45"/><circle cx="218.1" cy="218.8" r="1.45"/><circle cx="208.8" cy="206.7" r="1.45"/><circle cx="213.5" cy="214.7" r="1.45"/><circle cx="214.5" cy="206.9" r="1.45"/><circle cx="243.8" cy="221.7" r="1.45"/><circle cx="300.7" cy="198.3" r="1.45"/><circle cx="232.1" cy="209.2" r="1.45"/><circle cx="229.6" cy="211.4" r="1.45"/><circle cx="219.7" cy="213.9" r="1.45"/><circle cx="270.4" cy="208.8" r="1.45"/><circle cx="295.0" cy="218.7" r="1.45"/><circle cx="247.9" cy="208.8" r="1.45"/><circle cx="226.3" cy="219.3" r="1.45"/><circle cx="303.5" cy="214.5" r="1.45"/><circle cx="309.8" cy="206.2" r="1.45"/><circle cx="256.7" cy="215.6" r="1.45"/><circle cx="306.5" cy="208.3" r="1.45"/><circle cx="297.6" cy="209.5" r="1.45"/><circle cx="286.7" cy="219.4" r="1.45"/><circle cx="295.5" cy="224.7" r="1.45"/><circle cx="231.6" cy="220.8" r="1.45"/><circle cx="292.1" cy="200.3" r="1.45"/><circle cx="251.7" cy="223.4" r="1.45"/><circle cx="258.0" cy="223.6" r="1.45"/><circle cx="285.8" cy="201.4" r="1.45"/><circle cx="233.1" cy="212.4" r="1.45"/><circle cx="264.9" cy="204.9" r="1.45"/><circle cx="240.1" cy="225.4" r="1.45"/><circle cx="243.9" cy="222.7" r="1.45"/><circle cx="239.0" cy="218.3" r="1.45"/><circle cx="296.6" cy="206.1" r="1.45"/><circle cx="269.9" cy="223.1" r="1.45"/><circle cx="243.3" cy="217.9" r="1.45"/><circle cx="256.0" cy="206.4" r="1.45"/><circle cx="295.5" cy="199.3" r="1.45"/><circle cx="209.9" cy="212.4" r="1.45"/><circle cx="268.5" cy="214.4" r="1.45"/><circle cx="303.0" cy="211.4" r="1.45"/><circle cx="283.4" cy="217.8" r="1.45"/><circle cx="236.9" cy="218.2" r="1.45"/><circle cx="276.2" cy="217.7" r="1.45"/><circle cx="297.5" cy="207.3" r="1.45"/><circle cx="232.3" cy="220.8" r="1.45"/><circle cx="274.8" cy="222.2" r="1.45"/><circle cx="295.5" cy="223.3" r="1.45"/><circle cx="276.0" cy="206.8" r="1.45"/><circle cx="258.5" cy="213.3" r="1.45"/><circle cx="211.4" cy="216.9" r="1.45"/><circle cx="246.3" cy="219.0" r="1.45"/><circle cx="303.9" cy="209.8" r="1.45"/><circle cx="232.4" cy="216.5" r="1.45"/><circle cx="305.6" cy="217.1" r="1.45"/><circle cx="215.4" cy="213.5" r="1.45"/><circle cx="295.8" cy="218.2" r="1.45"/><circle cx="304.4" cy="215.4" r="1.45"/><circle cx="206.9" cy="213.1" r="1.45"/><circle cx="298.0" cy="206.4" r="1.45"/><circle cx="219.5" cy="210.9" r="1.45"/><circle cx="298.7" cy="211.7" r="1.45"/><circle cx="296.4" cy="202.9" r="1.45"/><circle cx="267.2" cy="205.7" r="1.45"/><circle cx="229.8" cy="212.7" r="1.45"/><circle cx="247.8" cy="214.8" r="1.45"/><circle cx="292.3" cy="201.9" r="1.45"/><circle cx="249.7" cy="212.2" r="1.45"/><circle cx="234.4" cy="207.7" r="1.45"/><circle cx="273.1" cy="210.6" r="1.45"/><circle cx="291.6" cy="216.0" r="1.45"/><circle cx="287.9" cy="213.9" r="1.45"/><circle cx="278.7" cy="214.2" r="1.45"/><circle cx="287.0" cy="211.5" r="1.45"/><circle cx="289.3" cy="206.3" r="1.45"/><circle cx="273.6" cy="213.1" r="1.45"/><circle cx="300.5" cy="223.6" r="1.45"/><circle cx="308.4" cy="202.3" r="1.45"/><circle cx="307.8" cy="205.3" r="1.45"/><circle cx="205.9" cy="211.6" r="1.45"/><circle cx="260.1" cy="216.5" r="1.45"/></g>
<g fill="#c01628"><circle cx="189.9" cy="216.6" r="1.45"/><circle cx="180.3" cy="206.5" r="1.45"/><circle cx="192.7" cy="205.3" r="1.45"/><circle cx="182.6" cy="221.7" r="1.45"/><circle cx="207.4" cy="227.6" r="1.45"/><circle cx="188.3" cy="226.0" r="1.45"/><circle cx="182.4" cy="204.0" r="1.45"/><circle cx="197.4" cy="230.7" r="1.45"/><circle cx="189.0" cy="223.5" r="1.45"/><circle cx="202.8" cy="230.8" r="1.45"/><circle cx="205.4" cy="221.5" r="1.45"/><circle cx="190.4" cy="224.8" r="1.45"/><circle cx="187.5" cy="230.4" r="1.45"/><circle cx="203.3" cy="219.5" r="1.45"/><circle cx="186.8" cy="226.4" r="1.45"/><circle cx="197.2" cy="228.9" r="1.45"/><circle cx="189.8" cy="207.0" r="1.45"/><circle cx="204.5" cy="219.5" r="1.45"/><circle cx="205.1" cy="213.4" r="1.45"/><circle cx="194.3" cy="221.0" r="1.45"/><circle cx="208.0" cy="218.1" r="1.45"/><circle cx="187.5" cy="217.4" r="1.45"/><circle cx="205.6" cy="224.2" r="1.45"/><circle cx="188.3" cy="210.8" r="1.45"/><circle cx="193.7" cy="218.8" r="1.45"/><circle cx="196.7" cy="217.5" r="1.45"/><circle cx="205.8" cy="207.0" r="1.45"/><circle cx="189.1" cy="206.3" r="1.45"/><circle cx="183.0" cy="214.4" r="1.45"/><circle cx="202.8" cy="225.8" r="1.45"/><circle cx="190.2" cy="216.2" r="1.45"/><circle cx="183.2" cy="215.3" r="1.45"/><circle cx="201.9" cy="205.9" r="1.45"/><circle cx="182.6" cy="218.5" r="1.45"/><circle cx="202.8" cy="211.5" r="1.45"/><circle cx="195.2" cy="220.8" r="1.45"/><circle cx="185.8" cy="224.5" r="1.45"/><circle cx="187.8" cy="219.6" r="1.45"/><circle cx="181.2" cy="205.6" r="1.45"/><circle cx="181.9" cy="204.8" r="1.45"/></g>
<g fill="#c01628"><circle cx="181.3" cy="208.9" r="1.45"/><circle cx="87.6" cy="209.2" r="1.45"/><circle cx="79.0" cy="205.8" r="1.45"/><circle cx="106.8" cy="205.9" r="1.45"/><circle cx="173.8" cy="209.5" r="1.45"/><circle cx="92.4" cy="205.8" r="1.45"/><circle cx="154.5" cy="210.9" r="1.45"/><circle cx="124.3" cy="209.6" r="1.45"/><circle cx="133.6" cy="210.9" r="1.45"/><circle cx="185.8" cy="206.7" r="1.45"/><circle cx="136.3" cy="208.0" r="1.45"/><circle cx="67.6" cy="202.0" r="1.45"/><circle cx="163.7" cy="206.8" r="1.45"/><circle cx="164.5" cy="208.3" r="1.45"/><circle cx="71.7" cy="203.7" r="1.45"/><circle cx="177.1" cy="204.6" r="1.45"/><circle cx="90.8" cy="207.1" r="1.45"/><circle cx="167.2" cy="210.8" r="1.45"/><circle cx="196.2" cy="208.2" r="1.45"/><circle cx="166.9" cy="210.8" r="1.45"/><circle cx="95.5" cy="209.7" r="1.45"/><circle cx="169.7" cy="211.0" r="1.45"/><circle cx="89.1" cy="207.1" r="1.45"/><circle cx="190.3" cy="210.0" r="1.45"/><circle cx="107.5" cy="210.8" r="1.45"/><circle cx="93.7" cy="208.6" r="1.45"/><circle cx="195.8" cy="207.0" r="1.45"/><circle cx="108.9" cy="207.5" r="1.45"/><circle cx="72.7" cy="203.5" r="1.45"/><circle cx="130.6" cy="206.2" r="1.45"/><circle cx="182.3" cy="207.9" r="1.45"/><circle cx="113.7" cy="209.6" r="1.45"/><circle cx="150.4" cy="208.7" r="1.45"/><circle cx="173.6" cy="205.3" r="1.45"/><circle cx="151.0" cy="207.9" r="1.45"/><circle cx="126.5" cy="207.6" r="1.45"/><circle cx="79.0" cy="204.3" r="1.45"/><circle cx="175.5" cy="207.2" r="1.45"/><circle cx="100.5" cy="210.8" r="1.45"/><circle cx="190.9" cy="207.5" r="1.45"/><circle cx="124.1" cy="206.8" r="1.45"/><circle cx="62.1" cy="202.7" r="1.45"/><circle cx="158.7" cy="205.4" r="1.45"/><circle cx="196.7" cy="206.2" r="1.45"/><circle cx="93.8" cy="208.4" r="1.45"/><circle cx="172.7" cy="205.1" r="1.45"/><circle cx="158.4" cy="211.0" r="1.45"/><circle cx="64.0" cy="202.0" r="1.45"/><circle cx="190.7" cy="205.6" r="1.45"/><circle cx="173.7" cy="205.3" r="1.45"/><circle cx="72.5" cy="204.2" r="1.45"/><circle cx="105.6" cy="211.4" r="1.45"/><circle cx="79.4" cy="203.9" r="1.45"/><circle cx="110.8" cy="207.4" r="1.45"/><circle cx="65.2" cy="205.5" r="1.45"/></g>
<polygon points="184.7,232.6 186.0,225.0 217.1,224.3 310.5,224.0 310.5,232.6" fill="#0b2e48" />
<g fill="#0b2e48"><circle cx="298.5" cy="225.7" r="1.2"/><circle cx="263.3" cy="225.2" r="1.2"/><circle cx="298.7" cy="224.7" r="1.2"/><circle cx="270.2" cy="224.7" r="1.2"/><circle cx="192.0" cy="224.3" r="1.2"/><circle cx="211.6" cy="222.6" r="1.2"/><circle cx="292.7" cy="223.9" r="1.2"/><circle cx="292.8" cy="224.6" r="1.2"/><circle cx="253.5" cy="224.5" r="1.2"/><circle cx="224.9" cy="225.9" r="1.2"/><circle cx="283.4" cy="225.9" r="1.2"/><circle cx="268.7" cy="225.3" r="1.2"/><circle cx="243.6" cy="223.6" r="1.2"/><circle cx="204.0" cy="224.1" r="1.2"/><circle cx="252.0" cy="225.5" r="1.2"/><circle cx="225.6" cy="223.5" r="1.2"/><circle cx="225.6" cy="224.5" r="1.2"/><circle cx="276.1" cy="224.6" r="1.2"/><circle cx="274.6" cy="223.2" r="1.2"/><circle cx="296.0" cy="223.6" r="1.2"/><circle cx="285.0" cy="225.5" r="1.2"/><circle cx="260.8" cy="223.1" r="1.2"/><circle cx="307.6" cy="225.5" r="1.2"/><circle cx="264.3" cy="224.5" r="1.2"/><circle cx="297.4" cy="225.0" r="1.2"/><circle cx="191.8" cy="224.4" r="1.2"/><circle cx="235.2" cy="224.8" r="1.2"/><circle cx="212.2" cy="225.8" r="1.2"/><circle cx="260.6" cy="224.6" r="1.2"/><circle cx="294.5" cy="222.8" r="1.2"/><circle cx="284.1" cy="224.7" r="1.2"/><circle cx="230.0" cy="224.2" r="1.2"/><circle cx="231.3" cy="222.8" r="1.2"/><circle cx="195.5" cy="224.3" r="1.2"/><circle cx="194.3" cy="223.7" r="1.2"/><circle cx="207.0" cy="223.3" r="1.2"/><circle cx="304.0" cy="225.3" r="1.2"/><circle cx="256.3" cy="225.7" r="1.2"/><circle cx="207.7" cy="225.6" r="1.2"/><circle cx="247.9" cy="222.8" r="1.2"/><circle cx="290.3" cy="224.5" r="1.2"/><circle cx="282.8" cy="225.3" r="1.2"/><circle cx="248.9" cy="225.7" r="1.2"/><circle cx="266.9" cy="224.2" r="1.2"/><circle cx="245.9" cy="224.2" r="1.2"/><circle cx="223.5" cy="224.6" r="1.2"/><circle cx="241.5" cy="225.8" r="1.2"/><circle cx="192.3" cy="222.7" r="1.2"/><circle cx="303.0" cy="222.6" r="1.2"/><circle cx="252.8" cy="223.2" r="1.2"/><circle cx="265.4" cy="225.0" r="1.2"/><circle cx="219.8" cy="225.9" r="1.2"/><circle cx="282.8" cy="223.3" r="1.2"/><circle cx="305.4" cy="224.1" r="1.2"/><circle cx="207.6" cy="224.5" r="1.2"/><circle cx="212.6" cy="224.3" r="1.2"/><circle cx="283.3" cy="222.7" r="1.2"/><circle cx="260.6" cy="225.8" r="1.2"/><circle cx="233.3" cy="224.0" r="1.2"/><circle cx="266.4" cy="225.8" r="1.2"/></g>
<g fill="#0b2e48"><circle cx="186.3" cy="222.7" r="1.2"/><circle cx="161.3" cy="226.0" r="1.2"/><circle cx="163.9" cy="230.9" r="1.2"/></g>
<polygon points="399.5,232.1 399.5,174.3 401.1,175.6 402.6,177.0 404.2,178.3 405.7,179.6 407.3,181.0 408.8,182.3 410.4,183.6 412.0,185.0 413.5,186.3 415.1,187.7 416.6,189.0 418.2,190.3 419.7,191.7 421.3,193.0 422.9,194.3 424.4,195.7 426.0,197.0 427.5,198.3 429.1,199.7 430.6,201.0 432.2,201.2 433.7,201.4 435.3,201.7 436.9,201.9 438.4,202.1 440.0,202.3 441.5,202.6 443.1,202.8 444.6,203.0 446.2,203.2 447.8,203.5 449.3,203.7 450.9,203.9 452.4,204.2 454.0,204.4 455.5,204.6 457.1,204.8 458.7,206.0 460.2,207.4 461.8,208.9 463.3,210.2 464.9,211.5 466.4,212.8 468.0,213.2 469.6,213.3 471.1,213.4 472.7,213.5 474.2,213.6 475.8,213.7 477.3,213.8 478.9,213.8 480.4,216.0 482.0,218.5 483.6,221.0 485.1,223.5 486.7,224.0 488.2,224.0 489.8,224.0 491.3,224.0 492.9,224.0 494.5,224.0 496.0,224.0 497.6,224.0 499.1,224.0 499.1,232.1" fill="#cdd2da" />
<g fill="#c01628"><circle cx="409.5" cy="187.9" r="1.45"/><circle cx="414.2" cy="190.4" r="1.45"/><circle cx="413.1" cy="187.0" r="1.45"/><circle cx="400.7" cy="179.3" r="1.45"/><circle cx="412.8" cy="190.9" r="1.45"/><circle cx="400.0" cy="178.4" r="1.45"/><circle cx="407.9" cy="182.1" r="1.45"/><circle cx="409.7" cy="187.5" r="1.45"/><circle cx="404.2" cy="180.2" r="1.45"/><circle cx="417.7" cy="190.7" r="1.45"/><circle cx="402.4" cy="180.9" r="1.45"/><circle cx="407.8" cy="187.7" r="1.45"/><circle cx="400.3" cy="176.2" r="1.45"/><circle cx="415.3" cy="191.6" r="1.45"/><circle cx="402.2" cy="183.2" r="1.45"/><circle cx="406.9" cy="181.2" r="1.45"/><circle cx="406.3" cy="180.4" r="1.45"/><circle cx="408.7" cy="184.5" r="1.45"/><circle cx="401.2" cy="178.6" r="1.45"/><circle cx="403.9" cy="185.3" r="1.45"/><circle cx="412.7" cy="186.5" r="1.45"/><circle cx="402.1" cy="182.4" r="1.45"/><circle cx="401.2" cy="178.0" r="1.45"/><circle cx="415.8" cy="190.6" r="1.45"/><circle cx="406.0" cy="184.2" r="1.45"/><circle cx="400.3" cy="178.6" r="1.45"/><circle cx="399.9" cy="182.4" r="1.45"/><circle cx="405.6" cy="179.5" r="1.45"/><circle cx="402.3" cy="176.7" r="1.45"/><circle cx="415.5" cy="191.8" r="1.45"/><circle cx="416.3" cy="189.8" r="1.45"/><circle cx="412.2" cy="186.0" r="1.45"/><circle cx="405.6" cy="181.8" r="1.45"/><circle cx="401.8" cy="176.6" r="1.45"/><circle cx="409.4" cy="186.4" r="1.45"/><circle cx="402.9" cy="181.4" r="1.45"/><circle cx="406.1" cy="181.7" r="1.45"/><circle cx="408.4" cy="183.8" r="1.45"/><circle cx="405.6" cy="186.0" r="1.45"/><circle cx="410.7" cy="183.7" r="1.45"/><circle cx="400.4" cy="177.1" r="1.45"/><circle cx="403.1" cy="182.4" r="1.45"/><circle cx="402.9" cy="184.1" r="1.45"/><circle cx="402.3" cy="182.7" r="1.45"/><circle cx="400.8" cy="182.9" r="1.45"/></g>
<g fill="#c01628"><circle cx="417.9" cy="190.8" r="1.45"/><circle cx="439.0" cy="202.7" r="1.45"/><circle cx="417.4" cy="191.0" r="1.45"/><circle cx="409.1" cy="190.1" r="1.45"/><circle cx="421.4" cy="193.8" r="1.45"/><circle cx="409.5" cy="192.9" r="1.45"/><circle cx="434.0" cy="205.6" r="1.45"/><circle cx="424.8" cy="200.9" r="1.45"/><circle cx="401.2" cy="188.2" r="1.45"/><circle cx="419.3" cy="199.6" r="1.45"/><circle cx="411.0" cy="187.0" r="1.45"/><circle cx="399.7" cy="174.0" r="1.45"/><circle cx="404.6" cy="183.5" r="1.45"/><circle cx="438.5" cy="202.5" r="1.45"/><circle cx="420.7" cy="192.8" r="1.45"/><circle cx="416.1" cy="191.8" r="1.45"/><circle cx="406.8" cy="187.4" r="1.45"/><circle cx="417.2" cy="198.2" r="1.45"/><circle cx="447.9" cy="206.8" r="1.45"/><circle cx="445.6" cy="209.7" r="1.45"/><circle cx="410.3" cy="189.5" r="1.45"/><circle cx="422.2" cy="203.4" r="1.45"/><circle cx="413.7" cy="189.8" r="1.45"/><circle cx="404.8" cy="187.2" r="1.45"/><circle cx="430.2" cy="201.5" r="1.45"/><circle cx="403.9" cy="178.2" r="1.45"/><circle cx="433.8" cy="206.6" r="1.45"/><circle cx="402.7" cy="186.7" r="1.45"/><circle cx="447.1" cy="203.2" r="1.45"/><circle cx="403.2" cy="187.6" r="1.45"/><circle cx="422.4" cy="196.2" r="1.45"/><circle cx="409.6" cy="183.3" r="1.45"/><circle cx="420.0" cy="198.8" r="1.45"/><circle cx="404.1" cy="190.1" r="1.45"/><circle cx="424.2" cy="204.6" r="1.45"/><circle cx="411.7" cy="197.8" r="1.45"/><circle cx="425.0" cy="202.4" r="1.45"/><circle cx="399.8" cy="175.1" r="1.45"/><circle cx="403.0" cy="182.6" r="1.45"/><circle cx="419.1" cy="201.0" r="1.45"/><circle cx="438.4" cy="202.7" r="1.45"/><circle cx="406.4" cy="180.0" r="1.45"/><circle cx="410.9" cy="190.2" r="1.45"/><circle cx="409.3" cy="186.5" r="1.45"/><circle cx="442.2" cy="207.2" r="1.45"/><circle cx="437.7" cy="205.1" r="1.45"/><circle cx="424.2" cy="196.9" r="1.45"/><circle cx="403.0" cy="178.1" r="1.45"/><circle cx="426.2" cy="198.7" r="1.45"/><circle cx="446.5" cy="207.5" r="1.45"/><circle cx="442.0" cy="208.0" r="1.45"/><circle cx="400.0" cy="182.6" r="1.45"/><circle cx="405.9" cy="184.5" r="1.45"/><circle cx="436.8" cy="203.4" r="1.45"/><circle cx="404.3" cy="187.9" r="1.45"/><circle cx="424.3" cy="201.1" r="1.45"/><circle cx="429.1" cy="207.5" r="1.45"/><circle cx="400.5" cy="186.3" r="1.45"/><circle cx="431.0" cy="207.1" r="1.45"/><circle cx="400.7" cy="181.1" r="1.45"/><circle cx="411.2" cy="187.4" r="1.45"/><circle cx="435.4" cy="202.0" r="1.45"/><circle cx="414.1" cy="190.7" r="1.45"/><circle cx="410.6" cy="192.5" r="1.45"/><circle cx="440.9" cy="202.6" r="1.45"/><circle cx="415.5" cy="187.6" r="1.45"/><circle cx="416.2" cy="190.9" r="1.45"/><circle cx="443.8" cy="203.1" r="1.45"/><circle cx="435.9" cy="208.8" r="1.45"/><circle cx="439.8" cy="207.0" r="1.45"/><circle cx="409.0" cy="195.9" r="1.45"/><circle cx="408.5" cy="187.5" r="1.45"/><circle cx="412.4" cy="186.8" r="1.45"/><circle cx="406.8" cy="184.3" r="1.45"/><circle cx="401.0" cy="186.9" r="1.45"/><circle cx="426.3" cy="206.0" r="1.45"/><circle cx="407.4" cy="186.4" r="1.45"/><circle cx="425.2" cy="200.6" r="1.45"/><circle cx="401.5" cy="179.7" r="1.45"/><circle cx="441.1" cy="205.7" r="1.45"/><circle cx="427.6" cy="202.2" r="1.45"/><circle cx="407.4" cy="182.2" r="1.45"/><circle cx="411.1" cy="197.2" r="1.45"/><circle cx="424.4" cy="198.5" r="1.45"/><circle cx="433.0" cy="204.3" r="1.45"/><circle cx="432.5" cy="201.0" r="1.45"/><circle cx="426.3" cy="203.4" r="1.45"/><circle cx="417.2" cy="200.3" r="1.45"/><circle cx="401.4" cy="176.3" r="1.45"/><circle cx="421.3" cy="201.1" r="1.45"/></g>
<g fill="#c01628"><circle cx="471.9" cy="222.5" r="1.45"/><circle cx="408.5" cy="215.5" r="1.45"/><circle cx="405.6" cy="220.7" r="1.45"/><circle cx="415.6" cy="215.7" r="1.45"/><circle cx="410.8" cy="221.1" r="1.45"/><circle cx="443.7" cy="219.0" r="1.45"/><circle cx="440.6" cy="211.1" r="1.45"/><circle cx="402.5" cy="209.8" r="1.45"/><circle cx="427.5" cy="212.3" r="1.45"/><circle cx="449.6" cy="212.3" r="1.45"/><circle cx="474.9" cy="222.4" r="1.45"/><circle cx="407.2" cy="207.5" r="1.45"/><circle cx="419.8" cy="212.0" r="1.45"/><circle cx="447.7" cy="212.5" r="1.45"/><circle cx="456.8" cy="219.4" r="1.45"/><circle cx="409.7" cy="203.5" r="1.45"/><circle cx="456.3" cy="217.7" r="1.45"/><circle cx="411.2" cy="205.3" r="1.45"/><circle cx="415.2" cy="222.7" r="1.45"/><circle cx="472.3" cy="222.7" r="1.45"/><circle cx="427.8" cy="222.8" r="1.45"/><circle cx="402.6" cy="218.6" r="1.45"/><circle cx="425.4" cy="212.0" r="1.45"/><circle cx="463.5" cy="220.0" r="1.45"/><circle cx="409.3" cy="204.2" r="1.45"/><circle cx="401.0" cy="208.4" r="1.45"/><circle cx="412.0" cy="221.3" r="1.45"/><circle cx="422.6" cy="218.6" r="1.45"/><circle cx="430.4" cy="218.1" r="1.45"/><circle cx="438.5" cy="217.0" r="1.45"/><circle cx="467.5" cy="215.7" r="1.45"/><circle cx="433.4" cy="215.3" r="1.45"/><circle cx="428.1" cy="214.0" r="1.45"/><circle cx="402.9" cy="213.0" r="1.45"/><circle cx="457.8" cy="217.3" r="1.45"/><circle cx="476.6" cy="221.9" r="1.45"/><circle cx="479.2" cy="219.9" r="1.45"/><circle cx="425.2" cy="207.9" r="1.45"/></g>
<g fill="#c01628"><circle cx="552.3" cy="214.1" r="1.45"/><circle cx="495.5" cy="208.2" r="1.45"/><circle cx="482.9" cy="209.7" r="1.45"/><circle cx="486.9" cy="206.9" r="1.45"/><circle cx="543.1" cy="210.8" r="1.45"/><circle cx="448.3" cy="205.5" r="1.45"/><circle cx="528.2" cy="213.9" r="1.45"/><circle cx="525.0" cy="208.7" r="1.45"/><circle cx="497.3" cy="212.2" r="1.45"/><circle cx="513.2" cy="213.1" r="1.45"/><circle cx="511.8" cy="212.7" r="1.45"/><circle cx="513.1" cy="209.9" r="1.45"/><circle cx="463.0" cy="212.4" r="1.45"/><circle cx="467.1" cy="205.4" r="1.45"/><circle cx="527.5" cy="212.6" r="1.45"/><circle cx="491.2" cy="212.8" r="1.45"/><circle cx="490.3" cy="213.9" r="1.45"/><circle cx="577.7" cy="213.4" r="1.45"/><circle cx="482.3" cy="212.6" r="1.45"/><circle cx="583.9" cy="211.0" r="1.45"/><circle cx="516.2" cy="214.9" r="1.45"/><circle cx="534.4" cy="205.4" r="1.45"/><circle cx="514.5" cy="207.0" r="1.45"/><circle cx="527.4" cy="214.7" r="1.45"/><circle cx="452.6" cy="206.1" r="1.45"/><circle cx="581.9" cy="213.1" r="1.45"/><circle cx="465.5" cy="211.7" r="1.45"/><circle cx="563.7" cy="208.2" r="1.45"/><circle cx="578.7" cy="210.3" r="1.45"/><circle cx="514.7" cy="209.7" r="1.45"/><circle cx="463.1" cy="205.7" r="1.45"/><circle cx="506.6" cy="211.4" r="1.45"/><circle cx="545.2" cy="209.4" r="1.45"/><circle cx="515.5" cy="213.4" r="1.45"/><circle cx="473.0" cy="205.4" r="1.45"/><circle cx="510.5" cy="205.9" r="1.45"/><circle cx="511.5" cy="206.1" r="1.45"/><circle cx="516.5" cy="211.5" r="1.45"/><circle cx="516.6" cy="207.5" r="1.45"/><circle cx="564.8" cy="207.2" r="1.45"/><circle cx="528.4" cy="207.7" r="1.45"/><circle cx="530.4" cy="204.4" r="1.45"/><circle cx="531.4" cy="211.9" r="1.45"/><circle cx="528.2" cy="205.5" r="1.45"/><circle cx="448.8" cy="209.2" r="1.45"/><circle cx="550.3" cy="213.9" r="1.45"/><circle cx="443.5" cy="207.3" r="1.45"/><circle cx="487.0" cy="209.1" r="1.45"/><circle cx="576.3" cy="207.1" r="1.45"/><circle cx="492.7" cy="211.7" r="1.45"/><circle cx="506.5" cy="207.9" r="1.45"/><circle cx="457.8" cy="210.8" r="1.45"/><circle cx="578.1" cy="211.3" r="1.45"/><circle cx="539.0" cy="212.4" r="1.45"/><circle cx="499.9" cy="206.1" r="1.45"/><circle cx="526.9" cy="213.4" r="1.45"/><circle cx="552.2" cy="209.7" r="1.45"/><circle cx="465.7" cy="205.4" r="1.45"/><circle cx="550.5" cy="209.8" r="1.45"/><circle cx="468.6" cy="206.1" r="1.45"/><circle cx="551.6" cy="206.0" r="1.45"/><circle cx="573.9" cy="208.5" r="1.45"/><circle cx="519.6" cy="207.1" r="1.45"/><circle cx="509.6" cy="208.7" r="1.45"/><circle cx="518.0" cy="209.5" r="1.45"/></g>
<g fill="#c01628"><circle cx="486.3" cy="216.3" r="1.45"/><circle cx="592.5" cy="221.4" r="1.45"/><circle cx="537.3" cy="222.0" r="1.45"/><circle cx="565.7" cy="225.2" r="1.45"/><circle cx="602.4" cy="214.5" r="1.45"/><circle cx="489.7" cy="223.9" r="1.45"/><circle cx="555.6" cy="219.2" r="1.45"/><circle cx="511.4" cy="225.0" r="1.45"/><circle cx="516.7" cy="218.3" r="1.45"/><circle cx="568.6" cy="223.8" r="1.45"/><circle cx="565.2" cy="216.2" r="1.45"/><circle cx="485.6" cy="224.3" r="1.45"/><circle cx="581.1" cy="220.5" r="1.45"/><circle cx="550.9" cy="225.3" r="1.45"/><circle cx="487.5" cy="223.0" r="1.45"/><circle cx="599.8" cy="211.3" r="1.45"/><circle cx="553.3" cy="224.8" r="1.45"/><circle cx="539.8" cy="216.3" r="1.45"/><circle cx="540.6" cy="218.5" r="1.45"/><circle cx="483.8" cy="222.7" r="1.45"/><circle cx="576.2" cy="223.6" r="1.45"/><circle cx="533.4" cy="220.5" r="1.45"/><circle cx="548.1" cy="222.4" r="1.45"/><circle cx="497.9" cy="220.9" r="1.45"/><circle cx="532.4" cy="220.6" r="1.45"/><circle cx="590.2" cy="224.5" r="1.45"/><circle cx="539.7" cy="220.9" r="1.45"/><circle cx="505.0" cy="217.9" r="1.45"/><circle cx="568.5" cy="223.0" r="1.45"/><circle cx="584.2" cy="217.6" r="1.45"/><circle cx="531.6" cy="224.8" r="1.45"/><circle cx="526.8" cy="225.3" r="1.45"/><circle cx="598.4" cy="216.5" r="1.45"/><circle cx="558.2" cy="216.7" r="1.45"/><circle cx="486.4" cy="223.0" r="1.45"/><circle cx="508.7" cy="222.6" r="1.45"/><circle cx="478.0" cy="222.1" r="1.45"/><circle cx="534.8" cy="215.7" r="1.45"/><circle cx="486.2" cy="219.6" r="1.45"/><circle cx="554.6" cy="215.8" r="1.45"/><circle cx="493.0" cy="219.1" r="1.45"/><circle cx="481.0" cy="225.4" r="1.45"/><circle cx="493.9" cy="220.8" r="1.45"/><circle cx="600.4" cy="217.9" r="1.45"/><circle cx="522.1" cy="218.8" r="1.45"/><circle cx="601.9" cy="219.0" r="1.45"/><circle cx="566.3" cy="225.7" r="1.45"/><circle cx="554.1" cy="217.8" r="1.45"/><circle cx="501.8" cy="215.9" r="1.45"/><circle cx="478.6" cy="218.0" r="1.45"/><circle cx="487.4" cy="220.9" r="1.45"/><circle cx="585.1" cy="212.6" r="1.45"/><circle cx="583.4" cy="215.2" r="1.45"/><circle cx="481.8" cy="214.9" r="1.45"/><circle cx="508.8" cy="218.6" r="1.45"/></g>
<g fill="#c01628"><circle cx="649.9" cy="215.4" r="1.45"/><circle cx="629.0" cy="230.3" r="1.45"/><circle cx="607.6" cy="215.4" r="1.45"/><circle cx="676.8" cy="198.0" r="1.45"/><circle cx="670.5" cy="203.7" r="1.45"/><circle cx="614.2" cy="223.6" r="1.45"/><circle cx="637.4" cy="226.6" r="1.45"/><circle cx="657.4" cy="211.1" r="1.45"/><circle cx="648.0" cy="230.5" r="1.45"/><circle cx="670.2" cy="202.2" r="1.45"/><circle cx="601.5" cy="227.3" r="1.45"/><circle cx="648.0" cy="226.2" r="1.45"/><circle cx="602.2" cy="223.9" r="1.45"/><circle cx="635.2" cy="229.8" r="1.45"/><circle cx="677.9" cy="227.1" r="1.45"/><circle cx="644.6" cy="222.0" r="1.45"/><circle cx="596.6" cy="229.1" r="1.45"/><circle cx="652.7" cy="203.5" r="1.45"/><circle cx="633.5" cy="223.4" r="1.45"/><circle cx="646.9" cy="204.5" r="1.45"/><circle cx="661.5" cy="208.1" r="1.45"/><circle cx="662.4" cy="213.2" r="1.45"/><circle cx="659.1" cy="220.9" r="1.45"/><circle cx="653.7" cy="200.7" r="1.45"/><circle cx="641.7" cy="224.8" r="1.45"/><circle cx="654.7" cy="220.3" r="1.45"/><circle cx="648.1" cy="227.3" r="1.45"/><circle cx="637.8" cy="222.5" r="1.45"/><circle cx="638.4" cy="226.0" r="1.45"/><circle cx="600.0" cy="229.3" r="1.45"/><circle cx="641.9" cy="212.5" r="1.45"/><circle cx="613.8" cy="216.8" r="1.45"/><circle cx="590.2" cy="230.1" r="1.45"/><circle cx="603.4" cy="227.6" r="1.45"/><circle cx="590.9" cy="227.0" r="1.45"/><circle cx="663.4" cy="206.0" r="1.45"/><circle cx="646.1" cy="223.0" r="1.45"/><circle cx="654.5" cy="226.6" r="1.45"/><circle cx="658.2" cy="205.3" r="1.45"/><circle cx="673.2" cy="206.2" r="1.45"/><circle cx="628.6" cy="209.1" r="1.45"/><circle cx="664.5" cy="214.3" r="1.45"/><circle cx="664.7" cy="223.8" r="1.45"/><circle cx="588.1" cy="230.4" r="1.45"/><circle cx="675.8" cy="201.0" r="1.45"/><circle cx="609.2" cy="231.0" r="1.45"/><circle cx="639.5" cy="208.8" r="1.45"/><circle cx="663.0" cy="228.3" r="1.45"/><circle cx="663.1" cy="230.9" r="1.45"/><circle cx="656.4" cy="211.2" r="1.45"/><circle cx="636.4" cy="230.6" r="1.45"/><circle cx="609.8" cy="224.8" r="1.45"/><circle cx="614.9" cy="217.7" r="1.45"/><circle cx="651.9" cy="230.2" r="1.45"/><circle cx="625.4" cy="229.1" r="1.45"/><circle cx="667.3" cy="213.7" r="1.45"/><circle cx="654.1" cy="222.3" r="1.45"/><circle cx="652.0" cy="224.1" r="1.45"/><circle cx="662.6" cy="217.8" r="1.45"/><circle cx="679.4" cy="207.2" r="1.45"/><circle cx="672.0" cy="227.7" r="1.45"/><circle cx="642.1" cy="203.8" r="1.45"/><circle cx="669.4" cy="223.0" r="1.45"/><circle cx="601.3" cy="229.0" r="1.45"/><circle cx="671.1" cy="209.5" r="1.45"/><circle cx="625.0" cy="224.0" r="1.45"/><circle cx="636.6" cy="226.8" r="1.45"/><circle cx="660.8" cy="215.4" r="1.45"/><circle cx="674.9" cy="198.7" r="1.45"/><circle cx="667.5" cy="202.3" r="1.45"/><circle cx="673.5" cy="198.4" r="1.45"/><circle cx="657.0" cy="225.2" r="1.45"/><circle cx="608.7" cy="214.6" r="1.45"/><circle cx="664.4" cy="211.0" r="1.45"/><circle cx="607.7" cy="221.6" r="1.45"/><circle cx="629.7" cy="219.1" r="1.45"/><circle cx="654.2" cy="203.1" r="1.45"/><circle cx="658.2" cy="220.5" r="1.45"/><circle cx="612.2" cy="214.9" r="1.45"/><circle cx="665.6" cy="202.8" r="1.45"/><circle cx="642.5" cy="207.0" r="1.45"/><circle cx="665.4" cy="210.0" r="1.45"/><circle cx="654.8" cy="228.1" r="1.45"/><circle cx="672.2" cy="210.5" r="1.45"/><circle cx="608.0" cy="231.1" r="1.45"/><circle cx="664.6" cy="206.4" r="1.45"/><circle cx="636.7" cy="225.6" r="1.45"/><circle cx="668.6" cy="213.8" r="1.45"/><circle cx="678.5" cy="219.5" r="1.45"/><circle cx="634.2" cy="218.0" r="1.45"/><circle cx="665.5" cy="221.2" r="1.45"/><circle cx="592.4" cy="218.4" r="1.45"/><circle cx="661.0" cy="229.4" r="1.45"/><circle cx="644.4" cy="226.6" r="1.45"/><circle cx="633.0" cy="217.4" r="1.45"/><circle cx="672.5" cy="226.4" r="1.45"/><circle cx="671.2" cy="217.4" r="1.45"/><circle cx="627.6" cy="226.3" r="1.45"/><circle cx="603.7" cy="217.5" r="1.45"/><circle cx="660.6" cy="218.9" r="1.45"/><circle cx="644.6" cy="225.1" r="1.45"/><circle cx="588.3" cy="223.5" r="1.45"/><circle cx="590.9" cy="228.5" r="1.45"/><circle cx="663.9" cy="218.3" r="1.45"/><circle cx="591.7" cy="230.4" r="1.45"/><circle cx="643.5" cy="228.7" r="1.45"/><circle cx="674.6" cy="225.5" r="1.45"/><circle cx="638.4" cy="225.8" r="1.45"/><circle cx="610.1" cy="219.1" r="1.45"/><circle cx="632.4" cy="209.3" r="1.45"/><circle cx="645.3" cy="224.7" r="1.45"/><circle cx="595.5" cy="222.2" r="1.45"/><circle cx="652.2" cy="206.3" r="1.45"/><circle cx="593.3" cy="221.7" r="1.45"/><circle cx="666.1" cy="203.6" r="1.45"/><circle cx="626.6" cy="221.3" r="1.45"/><circle cx="677.8" cy="199.2" r="1.45"/><circle cx="637.7" cy="210.6" r="1.45"/><circle cx="659.9" cy="216.8" r="1.45"/><circle cx="634.7" cy="227.8" r="1.45"/><circle cx="676.0" cy="212.5" r="1.45"/><circle cx="639.9" cy="213.7" r="1.45"/><circle cx="600.2" cy="220.8" r="1.45"/><circle cx="674.6" cy="211.9" r="1.45"/><circle cx="621.2" cy="225.9" r="1.45"/><circle cx="607.3" cy="217.9" r="1.45"/><circle cx="636.8" cy="207.9" r="1.45"/><circle cx="643.1" cy="227.2" r="1.45"/><circle cx="653.7" cy="223.8" r="1.45"/><circle cx="648.6" cy="215.2" r="1.45"/><circle cx="593.3" cy="226.5" r="1.45"/><circle cx="607.7" cy="215.3" r="1.45"/><circle cx="664.9" cy="217.9" r="1.45"/><circle cx="637.8" cy="228.9" r="1.45"/><circle cx="675.5" cy="213.0" r="1.45"/><circle cx="652.4" cy="213.4" r="1.45"/><circle cx="622.4" cy="214.0" r="1.45"/><circle cx="655.4" cy="213.8" r="1.45"/><circle cx="656.2" cy="224.4" r="1.45"/><circle cx="617.1" cy="216.7" r="1.45"/><circle cx="645.5" cy="209.1" r="1.45"/><circle cx="668.4" cy="207.2" r="1.45"/><circle cx="650.4" cy="213.0" r="1.45"/><circle cx="665.0" cy="219.3" r="1.45"/><circle cx="667.1" cy="225.8" r="1.45"/><circle cx="663.3" cy="219.2" r="1.45"/><circle cx="662.9" cy="226.6" r="1.45"/><circle cx="675.7" cy="195.7" r="1.45"/><circle cx="650.2" cy="210.8" r="1.45"/><circle cx="666.8" cy="209.4" r="1.45"/><circle cx="586.5" cy="224.6" r="1.45"/><circle cx="592.2" cy="218.2" r="1.45"/><circle cx="673.7" cy="221.8" r="1.45"/><circle cx="663.5" cy="200.7" r="1.45"/><circle cx="649.5" cy="223.3" r="1.45"/><circle cx="646.2" cy="227.7" r="1.45"/><circle cx="613.9" cy="220.6" r="1.45"/><circle cx="652.8" cy="210.5" r="1.45"/><circle cx="654.9" cy="200.7" r="1.45"/><circle cx="637.6" cy="230.3" r="1.45"/><circle cx="659.0" cy="203.4" r="1.45"/><circle cx="630.8" cy="212.3" r="1.45"/><circle cx="655.4" cy="220.8" r="1.45"/><circle cx="678.9" cy="217.7" r="1.45"/><circle cx="621.0" cy="212.6" r="1.45"/><circle cx="677.3" cy="204.3" r="1.45"/><circle cx="675.1" cy="223.5" r="1.45"/><circle cx="656.8" cy="208.5" r="1.45"/><circle cx="596.2" cy="227.1" r="1.45"/><circle cx="628.6" cy="208.8" r="1.45"/><circle cx="594.9" cy="230.9" r="1.45"/><circle cx="609.1" cy="217.1" r="1.45"/><circle cx="636.1" cy="229.1" r="1.45"/><circle cx="674.4" cy="223.2" r="1.45"/><circle cx="623.2" cy="216.0" r="1.45"/><circle cx="607.3" cy="221.2" r="1.45"/><circle cx="667.6" cy="213.0" r="1.45"/><circle cx="636.4" cy="215.7" r="1.45"/><circle cx="641.4" cy="217.1" r="1.45"/><circle cx="635.5" cy="220.4" r="1.45"/><circle cx="593.6" cy="220.1" r="1.45"/><circle cx="626.9" cy="224.0" r="1.45"/><circle cx="629.7" cy="207.7" r="1.45"/><circle cx="622.9" cy="229.3" r="1.45"/><circle cx="653.0" cy="209.8" r="1.45"/><circle cx="651.6" cy="229.2" r="1.45"/><circle cx="599.3" cy="217.1" r="1.45"/><circle cx="668.7" cy="223.7" r="1.45"/><circle cx="642.8" cy="214.0" r="1.45"/><circle cx="639.8" cy="213.6" r="1.45"/><circle cx="634.6" cy="220.1" r="1.45"/><circle cx="591.1" cy="217.0" r="1.45"/><circle cx="658.1" cy="200.2" r="1.45"/><circle cx="638.4" cy="214.5" r="1.45"/><circle cx="640.8" cy="222.4" r="1.45"/><circle cx="606.7" cy="219.2" r="1.45"/><circle cx="643.1" cy="213.0" r="1.45"/><circle cx="633.4" cy="213.3" r="1.45"/><circle cx="610.3" cy="222.9" r="1.45"/><circle cx="650.8" cy="203.4" r="1.45"/><circle cx="660.8" cy="210.2" r="1.45"/><circle cx="607.7" cy="215.8" r="1.45"/><circle cx="655.0" cy="222.8" r="1.45"/><circle cx="605.3" cy="216.2" r="1.45"/><circle cx="625.7" cy="222.2" r="1.45"/><circle cx="677.8" cy="200.5" r="1.45"/><circle cx="640.4" cy="229.7" r="1.45"/><circle cx="658.0" cy="205.4" r="1.45"/><circle cx="608.0" cy="221.3" r="1.45"/><circle cx="603.9" cy="221.0" r="1.45"/><circle cx="647.4" cy="206.2" r="1.45"/><circle cx="668.3" cy="227.1" r="1.45"/><circle cx="656.6" cy="214.8" r="1.45"/><circle cx="657.9" cy="213.7" r="1.45"/><circle cx="632.8" cy="225.9" r="1.45"/><circle cx="590.2" cy="217.6" r="1.45"/><circle cx="630.1" cy="222.2" r="1.45"/><circle cx="617.2" cy="227.9" r="1.45"/><circle cx="647.0" cy="221.0" r="1.45"/><circle cx="655.4" cy="223.7" r="1.45"/><circle cx="642.6" cy="219.4" r="1.45"/><circle cx="639.9" cy="229.9" r="1.45"/><circle cx="645.9" cy="209.9" r="1.45"/><circle cx="629.3" cy="228.5" r="1.45"/><circle cx="646.2" cy="208.7" r="1.45"/><circle cx="659.3" cy="209.8" r="1.45"/><circle cx="679.0" cy="205.9" r="1.45"/><circle cx="654.9" cy="230.4" r="1.45"/><circle cx="601.1" cy="223.0" r="1.45"/><circle cx="646.5" cy="202.6" r="1.45"/><circle cx="590.2" cy="223.2" r="1.45"/><circle cx="654.8" cy="202.6" r="1.45"/><circle cx="640.1" cy="208.8" r="1.45"/><circle cx="658.3" cy="210.9" r="1.45"/><circle cx="617.7" cy="213.4" r="1.45"/><circle cx="625.7" cy="210.2" r="1.45"/><circle cx="632.1" cy="220.7" r="1.45"/><circle cx="677.8" cy="202.4" r="1.45"/><circle cx="637.5" cy="207.7" r="1.45"/><circle cx="643.8" cy="206.6" r="1.45"/><circle cx="606.1" cy="226.3" r="1.45"/><circle cx="673.8" cy="210.0" r="1.45"/><circle cx="636.4" cy="218.6" r="1.45"/><circle cx="592.6" cy="225.9" r="1.45"/><circle cx="668.6" cy="209.3" r="1.45"/><circle cx="663.4" cy="206.0" r="1.45"/><circle cx="673.2" cy="206.4" r="1.45"/><circle cx="620.0" cy="219.7" r="1.45"/><circle cx="656.5" cy="216.5" r="1.45"/><circle cx="640.0" cy="209.2" r="1.45"/><circle cx="599.0" cy="226.5" r="1.45"/><circle cx="600.4" cy="215.3" r="1.45"/><circle cx="669.9" cy="219.6" r="1.45"/><circle cx="639.4" cy="229.9" r="1.45"/><circle cx="619.9" cy="221.3" r="1.45"/><circle cx="678.7" cy="213.2" r="1.45"/><circle cx="636.2" cy="229.0" r="1.45"/><circle cx="658.6" cy="216.2" r="1.45"/><circle cx="656.2" cy="224.9" r="1.45"/><circle cx="674.8" cy="226.8" r="1.45"/><circle cx="636.2" cy="209.1" r="1.45"/><circle cx="596.8" cy="229.1" r="1.45"/><circle cx="649.1" cy="218.3" r="1.45"/><circle cx="672.1" cy="214.1" r="1.45"/><circle cx="647.5" cy="215.2" r="1.45"/><circle cx="595.2" cy="229.5" r="1.45"/><circle cx="653.0" cy="227.1" r="1.45"/><circle cx="637.0" cy="214.4" r="1.45"/><circle cx="652.0" cy="223.3" r="1.45"/><circle cx="673.4" cy="219.0" r="1.45"/><circle cx="659.1" cy="219.0" r="1.45"/><circle cx="650.2" cy="227.7" r="1.45"/><circle cx="605.2" cy="228.4" r="1.45"/><circle cx="654.4" cy="201.0" r="1.45"/><circle cx="644.8" cy="205.3" r="1.45"/><circle cx="627.3" cy="213.1" r="1.45"/><circle cx="658.8" cy="230.3" r="1.45"/><circle cx="659.9" cy="227.2" r="1.45"/><circle cx="643.8" cy="208.4" r="1.45"/><circle cx="652.9" cy="216.6" r="1.45"/><circle cx="674.9" cy="216.0" r="1.45"/><circle cx="674.7" cy="212.8" r="1.45"/><circle cx="662.9" cy="225.4" r="1.45"/><circle cx="662.7" cy="210.4" r="1.45"/><circle cx="677.5" cy="226.5" r="1.45"/><circle cx="661.7" cy="216.0" r="1.45"/><circle cx="644.0" cy="212.4" r="1.45"/><circle cx="666.2" cy="216.4" r="1.45"/><circle cx="641.0" cy="204.2" r="1.45"/><circle cx="639.5" cy="229.6" r="1.45"/><circle cx="675.1" cy="208.0" r="1.45"/><circle cx="614.4" cy="222.6" r="1.45"/><circle cx="588.6" cy="229.2" r="1.45"/><circle cx="639.3" cy="203.3" r="1.45"/><circle cx="632.9" cy="211.9" r="1.45"/><circle cx="673.0" cy="226.1" r="1.45"/><circle cx="649.9" cy="203.6" r="1.45"/><circle cx="637.1" cy="222.2" r="1.45"/><circle cx="611.9" cy="229.0" r="1.45"/><circle cx="656.0" cy="231.0" r="1.45"/><circle cx="661.0" cy="219.8" r="1.45"/><circle cx="662.3" cy="200.7" r="1.45"/><circle cx="641.2" cy="225.2" r="1.45"/><circle cx="628.6" cy="211.0" r="1.45"/><circle cx="630.7" cy="229.9" r="1.45"/><circle cx="665.5" cy="218.8" r="1.45"/><circle cx="586.6" cy="219.0" r="1.45"/><circle cx="663.1" cy="216.3" r="1.45"/><circle cx="643.9" cy="204.8" r="1.45"/><circle cx="651.7" cy="230.1" r="1.45"/><circle cx="646.8" cy="228.5" r="1.45"/><circle cx="661.5" cy="231.1" r="1.45"/><circle cx="675.2" cy="223.1" r="1.45"/><circle cx="587.7" cy="218.6" r="1.45"/><circle cx="605.8" cy="217.1" r="1.45"/><circle cx="617.6" cy="213.0" r="1.45"/><circle cx="675.1" cy="205.1" r="1.45"/><circle cx="597.3" cy="228.2" r="1.45"/><circle cx="596.3" cy="223.9" r="1.45"/><circle cx="651.1" cy="201.4" r="1.45"/><circle cx="678.5" cy="199.5" r="1.45"/><circle cx="602.7" cy="215.8" r="1.45"/><circle cx="644.8" cy="226.0" r="1.45"/><circle cx="624.2" cy="220.9" r="1.45"/><circle cx="653.0" cy="219.5" r="1.45"/><circle cx="658.2" cy="212.6" r="1.45"/><circle cx="596.5" cy="228.6" r="1.45"/><circle cx="645.4" cy="218.5" r="1.45"/><circle cx="625.1" cy="212.5" r="1.45"/><circle cx="613.4" cy="225.9" r="1.45"/><circle cx="590.7" cy="226.6" r="1.45"/><circle cx="634.1" cy="223.8" r="1.45"/><circle cx="665.4" cy="215.8" r="1.45"/><circle cx="656.4" cy="209.5" r="1.45"/><circle cx="649.8" cy="228.6" r="1.45"/><circle cx="632.9" cy="229.8" r="1.45"/><circle cx="586.8" cy="227.2" r="1.45"/><circle cx="651.7" cy="227.7" r="1.45"/><circle cx="634.0" cy="217.2" r="1.45"/><circle cx="607.3" cy="224.7" r="1.45"/></g>
<g fill="#c01628"><circle cx="582.2" cy="207.9" r="1.45"/><circle cx="631.7" cy="205.3" r="1.45"/><circle cx="591.4" cy="210.4" r="1.45"/><circle cx="589.5" cy="216.8" r="1.45"/><circle cx="608.4" cy="210.2" r="1.45"/><circle cx="599.4" cy="214.0" r="1.45"/><circle cx="604.8" cy="211.6" r="1.45"/><circle cx="614.2" cy="212.8" r="1.45"/><circle cx="601.1" cy="208.2" r="1.45"/><circle cx="627.9" cy="205.9" r="1.45"/><circle cx="612.1" cy="209.2" r="1.45"/><circle cx="595.0" cy="212.2" r="1.45"/><circle cx="613.0" cy="209.0" r="1.45"/><circle cx="591.3" cy="216.7" r="1.45"/><circle cx="597.0" cy="211.4" r="1.45"/><circle cx="620.1" cy="207.2" r="1.45"/><circle cx="614.0" cy="212.2" r="1.45"/><circle cx="590.3" cy="209.0" r="1.45"/><circle cx="635.1" cy="204.5" r="1.45"/><circle cx="599.1" cy="209.7" r="1.45"/><circle cx="608.8" cy="207.8" r="1.45"/><circle cx="599.4" cy="212.5" r="1.45"/><circle cx="595.9" cy="215.7" r="1.45"/><circle cx="596.4" cy="211.0" r="1.45"/><circle cx="596.3" cy="213.7" r="1.45"/><circle cx="612.5" cy="208.4" r="1.45"/><circle cx="625.0" cy="206.7" r="1.45"/><circle cx="595.3" cy="209.1" r="1.45"/></g>
<g fill="#c01628"><circle cx="569.6" cy="220.1" r="1.45"/><circle cx="579.0" cy="230.5" r="1.45"/><circle cx="575.6" cy="228.9" r="1.45"/><circle cx="584.6" cy="219.1" r="1.45"/><circle cx="554.3" cy="227.4" r="1.45"/><circle cx="580.7" cy="224.8" r="1.45"/><circle cx="586.6" cy="226.5" r="1.45"/><circle cx="566.7" cy="221.9" r="1.45"/><circle cx="552.0" cy="225.9" r="1.45"/><circle cx="559.6" cy="225.2" r="1.45"/><circle cx="592.5" cy="225.3" r="1.45"/><circle cx="559.2" cy="226.7" r="1.45"/><circle cx="589.0" cy="229.2" r="1.45"/><circle cx="547.3" cy="221.1" r="1.45"/><circle cx="587.3" cy="223.5" r="1.45"/><circle cx="560.1" cy="226.9" r="1.45"/><circle cx="578.7" cy="219.9" r="1.45"/><circle cx="577.4" cy="229.1" r="1.45"/><circle cx="570.8" cy="221.6" r="1.45"/><circle cx="546.7" cy="224.1" r="1.45"/><circle cx="573.3" cy="228.3" r="1.45"/><circle cx="568.2" cy="226.8" r="1.45"/><circle cx="558.9" cy="230.7" r="1.45"/><circle cx="582.6" cy="219.2" r="1.45"/><circle cx="554.5" cy="224.6" r="1.45"/><circle cx="562.7" cy="226.9" r="1.45"/><circle cx="548.3" cy="221.6" r="1.45"/><circle cx="575.0" cy="224.3" r="1.45"/><circle cx="568.2" cy="226.7" r="1.45"/><circle cx="584.2" cy="222.2" r="1.45"/><circle cx="574.0" cy="224.1" r="1.45"/><circle cx="563.8" cy="226.0" r="1.45"/><circle cx="554.0" cy="227.1" r="1.45"/><circle cx="550.7" cy="230.9" r="1.45"/><circle cx="550.2" cy="223.7" r="1.45"/></g>
<g fill="#c01628"><circle cx="662.8" cy="228.8" r="1.45"/><circle cx="593.3" cy="230.2" r="1.45"/><circle cx="551.9" cy="229.7" r="1.45"/><circle cx="572.8" cy="230.3" r="1.45"/><circle cx="671.1" cy="230.5" r="1.45"/><circle cx="631.2" cy="229.3" r="1.45"/><circle cx="660.9" cy="230.4" r="1.45"/><circle cx="597.0" cy="230.5" r="1.45"/><circle cx="611.5" cy="229.7" r="1.45"/><circle cx="543.6" cy="229.5" r="1.45"/><circle cx="597.3" cy="230.7" r="1.45"/><circle cx="544.7" cy="229.3" r="1.45"/><circle cx="551.0" cy="230.1" r="1.45"/><circle cx="563.9" cy="230.7" r="1.45"/><circle cx="589.0" cy="230.2" r="1.45"/><circle cx="665.4" cy="229.8" r="1.45"/><circle cx="630.4" cy="229.5" r="1.45"/><circle cx="595.0" cy="229.8" r="1.45"/><circle cx="588.7" cy="229.0" r="1.45"/><circle cx="664.1" cy="228.8" r="1.45"/><circle cx="557.1" cy="229.6" r="1.45"/><circle cx="554.1" cy="229.6" r="1.45"/><circle cx="658.2" cy="231.1" r="1.45"/><circle cx="626.0" cy="230.9" r="1.45"/><circle cx="573.6" cy="228.8" r="1.45"/><circle cx="633.8" cy="228.9" r="1.45"/><circle cx="628.6" cy="229.2" r="1.45"/><circle cx="611.7" cy="229.4" r="1.45"/><circle cx="627.6" cy="229.2" r="1.45"/><circle cx="559.4" cy="231.0" r="1.45"/><circle cx="672.8" cy="230.6" r="1.45"/><circle cx="618.4" cy="229.1" r="1.45"/><circle cx="637.8" cy="229.4" r="1.45"/><circle cx="599.1" cy="229.4" r="1.45"/><circle cx="564.4" cy="230.6" r="1.45"/><circle cx="674.4" cy="230.8" r="1.45"/><circle cx="591.7" cy="229.8" r="1.45"/><circle cx="667.8" cy="230.3" r="1.45"/><circle cx="640.1" cy="229.7" r="1.45"/><circle cx="663.7" cy="230.2" r="1.45"/><circle cx="667.4" cy="230.9" r="1.45"/><circle cx="543.1" cy="229.8" r="1.45"/><circle cx="617.5" cy="230.2" r="1.45"/><circle cx="668.1" cy="230.5" r="1.45"/><circle cx="571.8" cy="229.4" r="1.45"/><circle cx="666.4" cy="229.6" r="1.45"/><circle cx="587.4" cy="229.8" r="1.45"/><circle cx="607.9" cy="230.2" r="1.45"/><circle cx="553.6" cy="230.0" r="1.45"/><circle cx="662.4" cy="228.6" r="1.45"/><circle cx="590.1" cy="229.6" r="1.45"/><circle cx="622.8" cy="229.0" r="1.45"/><circle cx="584.5" cy="228.9" r="1.45"/><circle cx="596.9" cy="230.5" r="1.45"/><circle cx="606.2" cy="229.6" r="1.45"/><circle cx="621.1" cy="230.5" r="1.45"/><circle cx="656.6" cy="231.0" r="1.45"/><circle cx="627.9" cy="230.6" r="1.45"/><circle cx="587.8" cy="228.6" r="1.45"/><circle cx="623.8" cy="228.6" r="1.45"/><circle cx="636.1" cy="230.2" r="1.45"/><circle cx="567.5" cy="230.4" r="1.45"/><circle cx="595.2" cy="230.3" r="1.45"/><circle cx="614.8" cy="228.9" r="1.45"/><circle cx="606.0" cy="230.1" r="1.45"/><circle cx="631.7" cy="229.1" r="1.45"/><circle cx="630.2" cy="229.0" r="1.45"/><circle cx="556.9" cy="230.6" r="1.45"/><circle cx="558.6" cy="231.0" r="1.45"/><circle cx="629.8" cy="229.5" r="1.45"/><circle cx="590.4" cy="229.3" r="1.45"/><circle cx="647.5" cy="228.9" r="1.45"/><circle cx="642.3" cy="229.3" r="1.45"/><circle cx="638.6" cy="229.3" r="1.45"/><circle cx="648.7" cy="228.7" r="1.45"/><circle cx="621.6" cy="230.2" r="1.45"/><circle cx="666.1" cy="230.0" r="1.45"/><circle cx="615.5" cy="228.7" r="1.45"/><circle cx="566.3" cy="228.9" r="1.45"/><circle cx="609.7" cy="229.7" r="1.45"/><circle cx="628.7" cy="230.2" r="1.45"/><circle cx="614.3" cy="228.7" r="1.45"/><circle cx="669.7" cy="229.0" r="1.45"/><circle cx="615.5" cy="228.7" r="1.45"/><circle cx="630.5" cy="229.6" r="1.45"/><circle cx="545.7" cy="228.8" r="1.45"/><circle cx="546.1" cy="230.4" r="1.45"/><circle cx="585.3" cy="229.2" r="1.45"/><circle cx="658.7" cy="230.6" r="1.45"/><circle cx="642.2" cy="229.9" r="1.45"/></g>
<polygon points="399.5,232.6 399.5,223.8 492.9,224.4 536.5,225.0 548.9,226.0 550.8,232.6" fill="#0b2e48" />
<g fill="#0b2e48"><circle cx="432.5" cy="224.2" r="1.2"/><circle cx="453.3" cy="224.8" r="1.2"/><circle cx="477.9" cy="224.9" r="1.2"/><circle cx="457.8" cy="225.5" r="1.2"/><circle cx="526.0" cy="225.3" r="1.2"/><circle cx="521.5" cy="225.4" r="1.2"/><circle cx="480.8" cy="225.2" r="1.2"/><circle cx="462.6" cy="224.7" r="1.2"/><circle cx="408.1" cy="226.0" r="1.2"/><circle cx="482.9" cy="224.2" r="1.2"/><circle cx="418.6" cy="225.7" r="1.2"/><circle cx="510.4" cy="225.0" r="1.2"/><circle cx="496.1" cy="224.8" r="1.2"/><circle cx="508.6" cy="224.8" r="1.2"/><circle cx="540.5" cy="224.5" r="1.2"/><circle cx="507.9" cy="225.4" r="1.2"/><circle cx="470.5" cy="225.9" r="1.2"/><circle cx="541.4" cy="226.0" r="1.2"/><circle cx="503.0" cy="224.8" r="1.2"/><circle cx="480.2" cy="225.1" r="1.2"/><circle cx="522.8" cy="224.4" r="1.2"/><circle cx="442.7" cy="225.5" r="1.2"/><circle cx="464.8" cy="225.0" r="1.2"/><circle cx="457.1" cy="225.7" r="1.2"/><circle cx="468.7" cy="225.1" r="1.2"/><circle cx="417.5" cy="225.0" r="1.2"/><circle cx="454.0" cy="224.7" r="1.2"/><circle cx="502.1" cy="225.2" r="1.2"/><circle cx="453.4" cy="225.7" r="1.2"/><circle cx="458.7" cy="225.0" r="1.2"/><circle cx="420.8" cy="224.8" r="1.2"/><circle cx="518.9" cy="225.8" r="1.2"/><circle cx="443.7" cy="224.4" r="1.2"/><circle cx="462.6" cy="225.9" r="1.2"/><circle cx="412.5" cy="224.2" r="1.2"/><circle cx="531.6" cy="225.0" r="1.2"/><circle cx="414.0" cy="225.0" r="1.2"/><circle cx="468.8" cy="226.0" r="1.2"/><circle cx="414.5" cy="225.6" r="1.2"/><circle cx="444.6" cy="224.2" r="1.2"/><circle cx="539.3" cy="225.9" r="1.2"/><circle cx="531.9" cy="225.2" r="1.2"/><circle cx="434.0" cy="225.1" r="1.2"/><circle cx="536.6" cy="224.7" r="1.2"/><circle cx="538.6" cy="225.1" r="1.2"/><circle cx="470.9" cy="224.3" r="1.2"/><circle cx="510.1" cy="225.2" r="1.2"/><circle cx="518.9" cy="225.5" r="1.2"/><circle cx="515.4" cy="224.3" r="1.2"/><circle cx="422.2" cy="225.5" r="1.2"/><circle cx="460.0" cy="224.0" r="1.2"/><circle cx="482.3" cy="225.0" r="1.2"/><circle cx="501.2" cy="225.3" r="1.2"/><circle cx="471.8" cy="225.9" r="1.2"/><circle cx="483.8" cy="225.8" r="1.2"/><circle cx="481.5" cy="225.0" r="1.2"/><circle cx="468.4" cy="224.6" r="1.2"/><circle cx="447.3" cy="225.6" r="1.2"/><circle cx="424.7" cy="225.8" r="1.2"/><circle cx="527.9" cy="224.8" r="1.2"/><circle cx="528.6" cy="225.0" r="1.2"/><circle cx="515.2" cy="225.1" r="1.2"/><circle cx="502.1" cy="224.8" r="1.2"/><circle cx="486.4" cy="225.3" r="1.2"/><circle cx="505.0" cy="224.9" r="1.2"/><circle cx="466.0" cy="224.8" r="1.2"/><circle cx="415.7" cy="225.2" r="1.2"/><circle cx="505.3" cy="225.4" r="1.2"/><circle cx="424.1" cy="225.7" r="1.2"/><circle cx="460.0" cy="224.8" r="1.2"/></g>
<g fill="#0b2e48"><circle cx="550.9" cy="226.3" r="1.3"/><circle cx="545.1" cy="229.9" r="1.3"/><circle cx="554.9" cy="229.3" r="1.3"/><circle cx="537.9" cy="224.9" r="1.3"/><circle cx="563.8" cy="228.3" r="1.3"/><circle cx="538.6" cy="230.9" r="1.3"/><circle cx="541.2" cy="226.8" r="1.3"/><circle cx="558.8" cy="228.5" r="1.3"/><circle cx="559.8" cy="229.0" r="1.3"/><circle cx="560.6" cy="229.7" r="1.3"/><circle cx="541.9" cy="225.6" r="1.3"/><circle cx="559.7" cy="225.5" r="1.3"/><circle cx="560.7" cy="227.5" r="1.3"/><circle cx="544.6" cy="229.6" r="1.3"/><circle cx="553.0" cy="224.3" r="1.3"/><circle cx="552.7" cy="229.6" r="1.3"/><circle cx="555.7" cy="230.8" r="1.3"/><circle cx="545.1" cy="230.3" r="1.3"/><circle cx="560.5" cy="224.5" r="1.3"/><circle cx="564.4" cy="227.7" r="1.3"/><circle cx="550.9" cy="230.4" r="1.3"/><circle cx="540.9" cy="230.6" r="1.3"/><circle cx="563.7" cy="229.4" r="1.3"/><circle cx="541.6" cy="224.3" r="1.3"/></g>
<g fill="#0b2e48"><circle cx="567.9" cy="227.1" r="1.3"/><circle cx="571.1" cy="229.1" r="1.3"/><circle cx="585.7" cy="229.9" r="1.3"/><circle cx="584.9" cy="229.5" r="1.3"/><circle cx="589.0" cy="229.0" r="1.3"/></g>
<polyline points="30.3,190.8 61.4,206.3 92.6,212.3 123.7,214.2 154.8,215.0 186.0,213.6 217.1,212.5 248.2,206.8 279.4,199.0 310.5,191.5" fill="none" stroke="#268f26" stroke-width="1.6" />
<polyline points="70.8,202.7 73.9,203.3 77.0,203.8 80.1,204.4 83.2,205.0 86.3,205.6 89.5,206.1 92.6,206.7 95.7,206.9 98.8,207.2 101.9,207.4 105.0,207.6 108.1,207.8 111.2,208.1 114.4,208.3 117.5,208.5 120.6,208.8 123.7,209.0 126.8,209.1 129.9,209.2 133.0,209.2 136.2,209.3 139.3,209.4 142.4,209.5 145.5,209.6 148.6,209.6 151.7,209.7 154.8,209.8 157.9,209.6 161.1,209.3 164.2,209.1 167.3,208.9 170.4,208.7 173.5,208.4 176.6,208.2 179.7,208.0 182.9,207.7 186.0,207.5 189.1,207.2 192.2,206.9 195.3,206.6 198.4,206.3 201.5,206.0 204.6,205.7 207.8,205.4 210.9,205.1 214.0,204.8 217.1,204.5 220.2,203.6 223.3,202.6 226.4,201.7 229.6,200.7 232.7,199.8 235.8,198.8 238.9,197.8 242.0,196.9 245.1,195.9 248.2,195.0 251.3,193.9 254.5,192.8 257.6,191.7 260.7,190.6 263.8,189.5 266.9,188.4 270.0,187.3 273.1,186.2 276.3,185.1 279.4,184.0 282.5,182.9 285.6,181.8 288.7,180.7 291.8,179.6 294.9,178.5 298.0,177.4 301.2,176.3 304.3,175.2 307.4,174.1 310.5,173.0" fill="none" stroke="#000" stroke-width="1.0" stroke-dasharray="3.7,1.6"/>
<polyline points="30.3,172.8 61.4,199.5 92.6,204.0 123.7,203.3 154.8,203.3 186.0,202.8 217.1,206.1 248.2,206.0 279.4,200.4 310.5,193.0" fill="none" stroke="#000" stroke-width="1.4" />
<g fill="#000"><circle cx="30.3" cy="172.8" r="1.8"/><circle cx="61.4" cy="199.5" r="1.8"/><circle cx="92.6" cy="204.0" r="1.8"/><circle cx="123.7" cy="203.3" r="1.8"/><circle cx="154.8" cy="203.3" r="1.8"/><circle cx="186.0" cy="202.8" r="1.8"/><circle cx="217.1" cy="206.1" r="1.8"/><circle cx="248.2" cy="206.0" r="1.8"/><circle cx="279.4" cy="200.4" r="1.8"/><circle cx="310.5" cy="193.0" r="1.8"/></g>
<polyline points="399.5,190.8 430.6,206.3 461.8,212.3 492.9,214.2 524.0,215.0 555.2,213.6 586.3,212.5 617.4,206.8 648.6,199.0 679.7,191.5" fill="none" stroke="#268f26" stroke-width="1.6" />
<polyline points="440.0,202.7 443.1,203.3 446.2,203.8 449.3,204.4 452.4,205.0 455.5,205.6 458.7,206.1 461.8,206.7 464.9,206.9 468.0,207.2 471.1,207.4 474.2,207.6 477.3,207.8 480.4,208.1 483.6,208.3 486.7,208.5 489.8,208.8 492.9,209.0 496.0,209.1 499.1,209.2 502.2,209.2 505.4,209.3 508.5,209.4 511.6,209.5 514.7,209.6 517.8,209.6 520.9,209.7 524.0,209.8 527.1,209.6 530.3,209.3 533.4,209.1 536.5,208.9 539.6,208.7 542.7,208.4 545.8,208.2 548.9,208.0 552.1,207.7 555.2,207.5 558.3,207.2 561.4,206.9 564.5,206.6 567.6,206.3 570.7,206.0 573.8,205.7 577.0,205.4 580.1,205.1 583.2,204.8 586.3,204.5 589.4,203.6 592.5,202.6 595.6,201.7 598.8,200.7 601.9,199.8 605.0,198.8 608.1,197.8 611.2,196.9 614.3,196.0 617.4,195.0 620.5,193.9 623.7,192.8 626.8,191.7 629.9,190.6 633.0,189.5 636.1,188.4 639.2,187.3 642.3,186.2 645.5,185.1 648.6,184.0 651.7,182.9 654.8,181.8 657.9,180.7 661.0,179.6 664.1,178.5 667.2,177.4 670.4,176.3 673.5,175.2 676.6,174.1 679.7,173.0" fill="none" stroke="#000" stroke-width="1.0" stroke-dasharray="3.7,1.6"/>
<polyline points="399.5,172.8 430.6,199.5 461.8,204.0 492.9,203.3 524.0,203.3 555.2,202.8 586.3,206.1 617.4,206.0 648.6,200.4 679.7,193.0" fill="none" stroke="#000" stroke-width="1.4" />
<g fill="#000"><circle cx="399.5" cy="172.8" r="1.8"/><circle cx="430.6" cy="199.5" r="1.8"/><circle cx="461.8" cy="204.0" r="1.8"/><circle cx="492.9" cy="203.3" r="1.8"/><circle cx="524.0" cy="203.3" r="1.8"/><circle cx="555.2" cy="202.8" r="1.8"/><circle cx="586.3" cy="206.1" r="1.8"/><circle cx="617.4" cy="206.0" r="1.8"/><circle cx="648.6" cy="200.4" r="1.8"/><circle cx="679.7" cy="193.0" r="1.8"/></g>
</g>
<path d="M30.5,10.5 H310.5 M30.5,232.3 H310.5" stroke="#3a3a3a" stroke-width="0.6" fill="none"/>
<path d="M30.5,10.5 V232.5 M310.5,10.5 V232.5" stroke="#3a3a3a" stroke-width="0.6" fill="none"/>
<line x1="28.7" y1="232.1" x2="30.5" y2="232.1" stroke="#000" stroke-width="0.6"/>
<text x="26.1" y="235.3" class="tk" text-anchor="end" textLength="5.5" lengthAdjust="spacingAndGlyphs">0</text>
<line x1="28.7" y1="200.4" x2="30.5" y2="200.4" stroke="#000" stroke-width="0.6"/>
<text x="26.1" y="203.6" class="tk" text-anchor="end" textLength="5.5" lengthAdjust="spacingAndGlyphs">2</text>
<line x1="28.7" y1="168.8" x2="30.5" y2="168.8" stroke="#000" stroke-width="0.6"/>
<text x="26.1" y="172.0" class="tk" text-anchor="end" textLength="5.5" lengthAdjust="spacingAndGlyphs">4</text>
<line x1="28.7" y1="137.1" x2="30.5" y2="137.1" stroke="#000" stroke-width="0.6"/>
<text x="26.1" y="140.3" class="tk" text-anchor="end" textLength="5.5" lengthAdjust="spacingAndGlyphs">6</text>
<line x1="28.7" y1="105.5" x2="30.5" y2="105.5" stroke="#000" stroke-width="0.6"/>
<text x="26.1" y="108.7" class="tk" text-anchor="end" textLength="5.5" lengthAdjust="spacingAndGlyphs">8</text>
<line x1="28.7" y1="73.8" x2="30.5" y2="73.8" stroke="#000" stroke-width="0.6"/>
<text x="26.1" y="77.0" class="tk" text-anchor="end" textLength="11.0" lengthAdjust="spacingAndGlyphs">10</text>
<line x1="28.7" y1="42.2" x2="30.5" y2="42.2" stroke="#000" stroke-width="0.6"/>
<text x="26.1" y="45.4" class="tk" text-anchor="end" textLength="11.0" lengthAdjust="spacingAndGlyphs">12</text>
<line x1="28.7" y1="10.5" x2="30.5" y2="10.5" stroke="#000" stroke-width="0.6"/>
<text x="26.1" y="13.7" class="tk" text-anchor="end" textLength="11.0" lengthAdjust="spacingAndGlyphs">14</text>
<line x1="30.3" y1="232.1" x2="30.3" y2="233.9" stroke="#000" stroke-width="0.6"/>
<text x="30.3" y="243.6" class="tk" text-anchor="middle" textLength="11.5" lengthAdjust="spacingAndGlyphs">15</text>
<line x1="61.4" y1="232.1" x2="61.4" y2="233.9" stroke="#000" stroke-width="0.6"/>
<text x="61.4" y="243.6" class="tk" text-anchor="middle" textLength="11.5" lengthAdjust="spacingAndGlyphs">20</text>
<line x1="92.6" y1="232.1" x2="92.6" y2="233.9" stroke="#000" stroke-width="0.6"/>
<text x="92.6" y="243.6" class="tk" text-anchor="middle" textLength="11.5" lengthAdjust="spacingAndGlyphs">25</text>
<line x1="123.7" y1="232.1" x2="123.7" y2="233.9" stroke="#000" stroke-width="0.6"/>
<text x="123.7" y="243.6" class="tk" text-anchor="middle" textLength="11.5" lengthAdjust="spacingAndGlyphs">30</text>
<line x1="154.8" y1="232.1" x2="154.8" y2="233.9" stroke="#000" stroke-width="0.6"/>
<text x="154.8" y="243.6" class="tk" text-anchor="middle" textLength="11.5" lengthAdjust="spacingAndGlyphs">35</text>
<line x1="186.0" y1="232.1" x2="186.0" y2="233.9" stroke="#000" stroke-width="0.6"/>
<text x="186.0" y="243.6" class="tk" text-anchor="middle" textLength="11.5" lengthAdjust="spacingAndGlyphs">40</text>
<line x1="217.1" y1="232.1" x2="217.1" y2="233.9" stroke="#000" stroke-width="0.6"/>
<text x="217.1" y="243.6" class="tk" text-anchor="middle" textLength="11.5" lengthAdjust="spacingAndGlyphs">45</text>
<line x1="248.2" y1="232.1" x2="248.2" y2="233.9" stroke="#000" stroke-width="0.6"/>
<text x="248.2" y="243.6" class="tk" text-anchor="middle" textLength="11.5" lengthAdjust="spacingAndGlyphs">50</text>
<line x1="279.4" y1="232.1" x2="279.4" y2="233.9" stroke="#000" stroke-width="0.6"/>
<text x="279.4" y="243.6" class="tk" text-anchor="middle" textLength="11.5" lengthAdjust="spacingAndGlyphs">55</text>
<line x1="310.5" y1="232.1" x2="310.5" y2="233.9" stroke="#000" stroke-width="0.6"/>
<text x="310.5" y="243.6" class="tk" text-anchor="middle" textLength="11.5" lengthAdjust="spacingAndGlyphs">60</text>
<text x="310.2" y="8.8" class="tt" text-anchor="end" textLength="88.5" lengthAdjust="spacingAndGlyphs">138 fb<tspan dy="-3.6" font-size="8.3">−1</tspan><tspan dy="3.6"> (13 TeV)</tspan></text>
<rect x="141.0" y="15.3" width="164.2" height="105.7" rx="2" fill="#fff" fill-opacity="0.85" stroke="#d6d6d6" stroke-width="0.8"/>
<text x="173.6" y="26.2" class="lg" textLength="47.3" lengthAdjust="spacingAndGlyphs">Observed</text>
<text x="173.6" y="40.9" class="lg" textLength="85.7" lengthAdjust="spacingAndGlyphs">Median expected</text>
<text x="173.6" y="55.6" class="lg" textLength="127.6" lengthAdjust="spacingAndGlyphs">Allowed points from scan</text>
<text x="173.6" y="70.3" class="lg" textLength="80.6" lengthAdjust="spacingAndGlyphs">Excluded by HB</text>
<text x="173.6" y="85.0" class="lg" textLength="37.2" lengthAdjust="spacingAndGlyphs">Pass all</text>
<text x="173.6" y="99.7" class="lg" textLength="88.5" lengthAdjust="spacingAndGlyphs">68% CL expected</text>
<text x="173.6" y="114.4" class="lg" textLength="88.5" lengthAdjust="spacingAndGlyphs">95% CL expected</text>
<line x1="144.5" y1="23.2" x2="165.5" y2="23.2" stroke="#000" stroke-width="1.05"/>
<circle cx="155.0" cy="23.2" r="2.0" fill="#000"/>
<line x1="144.5" y1="37.7" x2="165.5" y2="37.7" stroke="#1a1a1a" stroke-width="1.1" stroke-dasharray="3.7,1.9"/>
<circle cx="155.0" cy="52.7" r="1.7" fill="#cdd2da"/>
<circle cx="155.0" cy="67.3" r="1.7" fill="#c01628"/>
<circle cx="155.0" cy="82.0" r="1.7" fill="#0b2e48"/>
<rect x="144.5" y="93.2" width="21.0" height="7.8" fill="#41c541" stroke="#36a836" stroke-width="0.6"/>
<rect x="144.5" y="107.9" width="21.0" height="7.8" fill="#fed85e" stroke="#e8c24c" stroke-width="0.6"/>
<path d="M399.5,10.5 H679.5 M399.5,232.3 H679.5" stroke="#3a3a3a" stroke-width="0.6" fill="none"/>
<path d="M399.5,10.5 V232.5 M679.5,10.5 V232.5" stroke="#3a3a3a" stroke-width="0.6" fill="none"/>
<line x1="397.7" y1="232.1" x2="399.5" y2="232.1" stroke="#000" stroke-width="0.6"/>
<text x="395.3" y="235.3" class="tk" text-anchor="end" textLength="5.5" lengthAdjust="spacingAndGlyphs">0</text>
<line x1="397.7" y1="200.4" x2="399.5" y2="200.4" stroke="#000" stroke-width="0.6"/>
<text x="395.3" y="203.6" class="tk" text-anchor="end" textLength="5.5" lengthAdjust="spacingAndGlyphs">2</text>
<line x1="397.7" y1="168.8" x2="399.5" y2="168.8" stroke="#000" stroke-width="0.6"/>
<text x="395.3" y="172.0" class="tk" text-anchor="end" textLength="5.5" lengthAdjust="spacingAndGlyphs">4</text>
<line x1="397.7" y1="137.1" x2="399.5" y2="137.1" stroke="#000" stroke-width="0.6"/>
<text x="395.3" y="140.3" class="tk" text-anchor="end" textLength="5.5" lengthAdjust="spacingAndGlyphs">6</text>
<line x1="397.7" y1="105.5" x2="399.5" y2="105.5" stroke="#000" stroke-width="0.6"/>
<text x="395.3" y="108.7" class="tk" text-anchor="end" textLength="5.5" lengthAdjust="spacingAndGlyphs">8</text>
<line x1="397.7" y1="73.8" x2="399.5" y2="73.8" stroke="#000" stroke-width="0.6"/>
<text x="395.3" y="77.0" class="tk" text-anchor="end" textLength="11.0" lengthAdjust="spacingAndGlyphs">10</text>
<line x1="397.7" y1="42.2" x2="399.5" y2="42.2" stroke="#000" stroke-width="0.6"/>
<text x="395.3" y="45.4" class="tk" text-anchor="end" textLength="11.0" lengthAdjust="spacingAndGlyphs">12</text>
<line x1="397.7" y1="10.5" x2="399.5" y2="10.5" stroke="#000" stroke-width="0.6"/>
<text x="395.3" y="13.7" class="tk" text-anchor="end" textLength="11.0" lengthAdjust="spacingAndGlyphs">14</text>
<line x1="399.5" y1="232.1" x2="399.5" y2="233.9" stroke="#000" stroke-width="0.6"/>
<text x="399.5" y="243.6" class="tk" text-anchor="middle" textLength="11.5" lengthAdjust="spacingAndGlyphs">15</text>
<line x1="430.6" y1="232.1" x2="430.6" y2="233.9" stroke="#000" stroke-width="0.6"/>
<text x="430.6" y="243.6" class="tk" text-anchor="middle" textLength="11.5" lengthAdjust="spacingAndGlyphs">20</text>
<line x1="461.8" y1="232.1" x2="461.8" y2="233.9" stroke="#000" stroke-width="0.6"/>
<text x="461.8" y="243.6" class="tk" text-anchor="middle" textLength="11.5" lengthAdjust="spacingAndGlyphs">25</text>
<line x1="492.9" y1="232.1" x2="492.9" y2="233.9" stroke="#000" stroke-width="0.6"/>
<text x="492.9" y="243.6" class="tk" text-anchor="middle" textLength="11.5" lengthAdjust="spacingAndGlyphs">30</text>
<line x1="524.0" y1="232.1" x2="524.0" y2="233.9" stroke="#000" stroke-width="0.6"/>
<text x="524.0" y="243.6" class="tk" text-anchor="middle" textLength="11.5" lengthAdjust="spacingAndGlyphs">35</text>
<line x1="555.2" y1="232.1" x2="555.2" y2="233.9" stroke="#000" stroke-width="0.6"/>
<text x="555.2" y="243.6" class="tk" text-anchor="middle" textLength="11.5" lengthAdjust="spacingAndGlyphs">40</text>
<line x1="586.3" y1="232.1" x2="586.3" y2="233.9" stroke="#000" stroke-width="0.6"/>
<text x="586.3" y="243.6" class="tk" text-anchor="middle" textLength="11.5" lengthAdjust="spacingAndGlyphs">45</text>
<line x1="617.4" y1="232.1" x2="617.4" y2="233.9" stroke="#000" stroke-width="0.6"/>
<text x="617.4" y="243.6" class="tk" text-anchor="middle" textLength="11.5" lengthAdjust="spacingAndGlyphs">50</text>
<line x1="648.6" y1="232.1" x2="648.6" y2="233.9" stroke="#000" stroke-width="0.6"/>
<text x="648.6" y="243.6" class="tk" text-anchor="middle" textLength="11.5" lengthAdjust="spacingAndGlyphs">55</text>
<line x1="679.7" y1="232.1" x2="679.7" y2="233.9" stroke="#000" stroke-width="0.6"/>
<text x="679.7" y="243.6" class="tk" text-anchor="middle" textLength="11.5" lengthAdjust="spacingAndGlyphs">60</text>
<text x="679.4" y="8.8" class="tt" text-anchor="end" textLength="88.5" lengthAdjust="spacingAndGlyphs">138 fb<tspan dy="-3.6" font-size="8.3">−1</tspan><tspan dy="3.6"> (13 TeV)</tspan></text>
<rect x="510.2" y="15.3" width="164.2" height="105.7" rx="2" fill="#fff" fill-opacity="0.85" stroke="#d6d6d6" stroke-width="0.8"/>
<text x="542.8" y="26.2" class="lg" textLength="47.3" lengthAdjust="spacingAndGlyphs">Observed</text>
<text x="542.8" y="40.9" class="lg" textLength="85.7" lengthAdjust="spacingAndGlyphs">Median expected</text>
<text x="542.8" y="55.6" class="lg" textLength="127.6" lengthAdjust="spacingAndGlyphs">Allowed points from scan</text>
<text x="542.8" y="70.3" class="lg" textLength="80.6" lengthAdjust="spacingAndGlyphs">Excluded by HB</text>
<text x="542.8" y="85.0" class="lg" textLength="37.2" lengthAdjust="spacingAndGlyphs">Pass all</text>
<text x="542.8" y="99.7" class="lg" textLength="88.5" lengthAdjust="spacingAndGlyphs">68% CL expected</text>
<text x="542.8" y="114.4" class="lg" textLength="88.5" lengthAdjust="spacingAndGlyphs">95% CL expected</text>
<line x1="513.7" y1="23.2" x2="534.7" y2="23.2" stroke="#000" stroke-width="1.05"/>
<circle cx="524.2" cy="23.2" r="2.0" fill="#000"/>
<line x1="513.7" y1="37.7" x2="534.7" y2="37.7" stroke="#1a1a1a" stroke-width="1.1" stroke-dasharray="3.7,1.9"/>
<circle cx="524.2" cy="52.7" r="1.7" fill="#cdd2da"/>
<circle cx="524.2" cy="67.3" r="1.7" fill="#c01628"/>
<circle cx="524.2" cy="82.0" r="1.7" fill="#0b2e48"/>
<rect x="513.7" y="93.2" width="21.0" height="7.8" fill="#41c541" stroke="#36a836" stroke-width="0.6"/>
<rect x="513.7" y="107.9" width="21.0" height="7.8" fill="#fed85e" stroke="#e8c24c" stroke-width="0.6"/>
<text x="170.4" y="256.3" class="xl" text-anchor="middle" textLength="47.4" lengthAdjust="spacingAndGlyphs"><tspan font-style="italic">m</tspan><tspan font-style="italic" font-size="7" dy="1.5">a</tspan><tspan dy="-1.5"> [GeV]</tspan></text>
<text transform="translate(9.0,121.3) rotate(-90)" class="yl" text-anchor="middle" textLength="116" lengthAdjust="spacingAndGlyphs"><tspan font-style="italic">B</tspan>(<tspan font-style="italic">H</tspan>→<tspan font-style="italic">aa</tspan>→<tspan font-style="italic">τ</tspan><tspan font-size="7" dy="-3.5">+</tspan><tspan font-style="italic" dy="3.5">τ</tspan><tspan font-size="7" dy="-3.5">−</tspan><tspan font-style="italic" dy="3.5">bb</tspan>)(%)</text>
<text x="539.6" y="256.3" class="xl" text-anchor="middle" textLength="47.4" lengthAdjust="spacingAndGlyphs"><tspan font-style="italic">m</tspan><tspan font-style="italic" font-size="7" dy="1.5">h</tspan><tspan dy="-1.5"> [GeV]</tspan></text>
<text transform="translate(378.2,121.3) rotate(-90)" class="yl" text-anchor="middle" textLength="116" lengthAdjust="spacingAndGlyphs"><tspan font-style="italic">B</tspan>(<tspan font-style="italic">H</tspan>→<tspan font-style="italic">hh</tspan>→<tspan font-style="italic">τ</tspan><tspan font-size="7" dy="-3.5">+</tspan><tspan font-style="italic" dy="3.5">τ</tspan><tspan font-size="7" dy="-3.5">−</tspan><tspan font-style="italic" dy="3.5">b<tspan style="text-decoration:overline">b</tspan></tspan>)(%)</text>
</svg></body></html>
